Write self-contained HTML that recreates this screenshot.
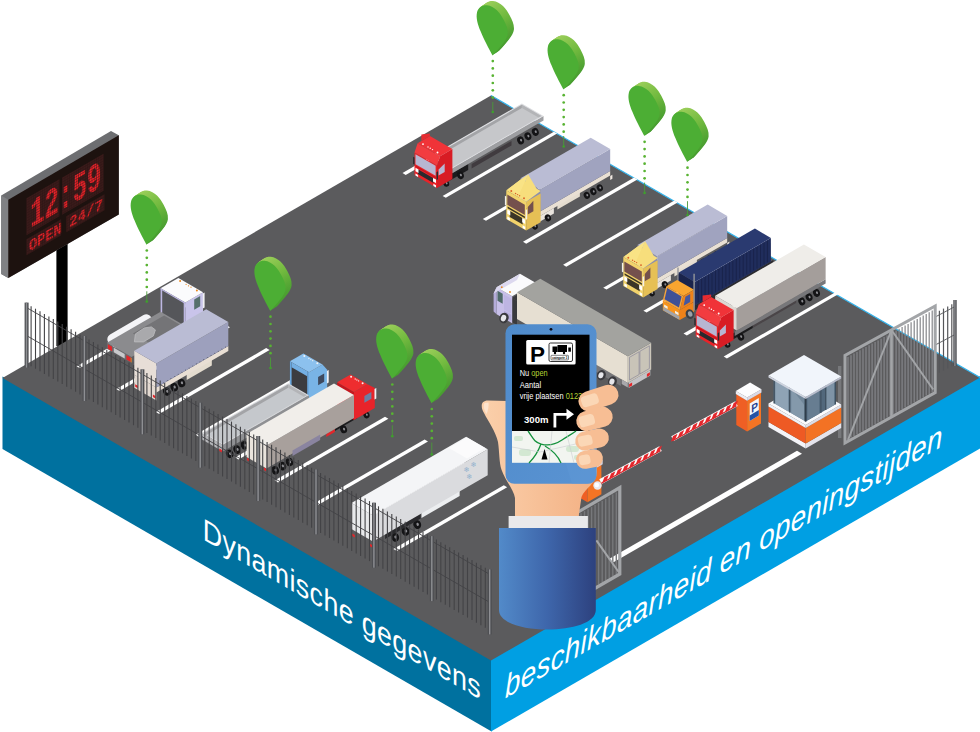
<!DOCTYPE html>
<html lang="nl"><head><meta charset="utf-8"><title>Dynamische gegevens</title><style>html,body{margin:0;padding:0;background:#fff}body{width:980px;height:732px;overflow:hidden}svg{display:block}</style></head><body>
<svg width="980" height="732" viewBox="0 0 980 732">
<defs><linearGradient id="pinEdge" x1="0.2" y1="0" x2="0.8" y2="1"><stop offset="0" stop-color="#9bce5a"/><stop offset="0.45" stop-color="#72ba3f"/><stop offset="1" stop-color="#3a942b"/></linearGradient><linearGradient id="sleeve" x1="0" y1="0" x2="1" y2="0"><stop offset="0" stop-color="#528ac9"/><stop offset="0.5" stop-color="#3e66ab"/><stop offset="1" stop-color="#2d417e"/></linearGradient><linearGradient id="phoneG" x1="0" y1="0" x2="1" y2="1"><stop offset="0" stop-color="#4f8bcb"/><stop offset="1" stop-color="#5a93d2"/></linearGradient><linearGradient id="skin" x1="0" y1="0" x2="1" y2="0"><stop offset="0" stop-color="#fbd0ab"/><stop offset="1" stop-color="#f3b083"/></linearGradient><pattern id="led" width="2.6" height="2.6" patternUnits="userSpaceOnUse"><path d="M0,0 H2.6 M0,0 V2.6" stroke="#2a1313" stroke-width="0.75" fill="none"/></pattern></defs>
<rect width="980" height="732" fill="#fff"/>
<rect x="56.4" y="240" width="11.2" height="106" fill="#000"/>
<polygon points="1.2,195.5 111,131 118.8,135.2 118.8,214.6 8.3,278 1.2,274" fill="#6d6e71"/>
<polygon points="1.2,195.5 8.3,199.8 8.3,278 1.2,274" fill="#808184"/>
<polygon points="8.3,199.8 118.8,135.2 118.8,214.6 8.3,278" fill="#1d120f"/>
<g transform="matrix(0.866 -0.5 0 1 8.3 199.8)">
<rect x="21" y="9" width="38" height="37" fill="#3a1b1a"/>
<rect x="62" y="9" width="48" height="37" fill="#3a1b1a"/>
<rect x="21" y="50" width="40" height="16" fill="#3a1b1a"/>
<rect x="67" y="50" width="44" height="16" fill="#3a1b1a"/>
<text x="25" y="40.5" font-family="'Liberation Mono', monospace" font-weight="bold" font-size="40" textLength="82" lengthAdjust="spacingAndGlyphs" fill="#e8232a">12:59</text>
<text x="23.5" y="63.5" font-family="'Liberation Mono', monospace" font-weight="bold" font-size="16" textLength="38" lengthAdjust="spacingAndGlyphs" fill="#e8232a">OPEN</text>
<text x="70" y="63" font-family="'Liberation Mono', monospace" font-weight="bold" font-size="15" textLength="39" lengthAdjust="spacingAndGlyphs" fill="#e8232a">24/7</text>
<rect x="21" y="9" width="38" height="37" fill="url(#led)"/>
<rect x="62" y="9" width="48" height="37" fill="url(#led)"/>
<rect x="21" y="50" width="40" height="16" fill="url(#led)"/>
<rect x="67" y="50" width="44" height="16" fill="url(#led)"/>
</g>
<polygon points="2.5,376.5 491.6,659 491.6,731.5 2.5,449" fill="#00719f"/>
<polygon points="491,659 980,376 980,448.5 491,731.5" fill="#009fe3"/>
<polygon points="2.5,378 491,95.6 980,377.5 491,660.5" fill="#5b5b5d"/>
<line x1="491" y1="95.6" x2="980" y2="377.5" stroke="#35b4ec" stroke-width="1.2"/>
<polygon points="402.5,173 513.8,108.8 517,110.7 405.7,174.9" fill="#ffffff"/>
<polygon points="442.6,195.9 553.9,131.7 557.1,133.6 445.8,197.8" fill="#ffffff"/>
<polygon points="482.8,218.9 594.1,154.7 597.3,156.6 486,220.8" fill="#ffffff"/>
<polygon points="523,241.8 634.2,177.6 637.4,179.5 526.2,243.8" fill="#ffffff"/>
<polygon points="563.1,264.8 674.4,200.6 677.6,202.5 566.3,266.7" fill="#ffffff"/>
<polygon points="603.2,287.8 714.5,223.5 717.7,225.4 606.5,289.6" fill="#ffffff"/>
<polygon points="643.4,310.7 754.7,246.4 757.9,248.3 646.6,312.6" fill="#ffffff"/>
<polygon points="683.5,333.6 794.8,269.4 798,271.3 686.8,335.5" fill="#ffffff"/>
<polygon points="723.7,356.6 835,292.4 838.2,294.2 726.9,358.5" fill="#ffffff"/>
<polygon points="76.6,366.2 187,302.4 190.4,304.4 80,368.2" fill="#ffffff"/>
<polygon points="116.2,389 226.6,325.2 230,327.2 119.6,391" fill="#ffffff"/>
<polygon points="155.8,411.9 266.2,348.1 269.6,350.1 159.2,413.9" fill="#ffffff"/>
<polygon points="195.4,434.7 305.8,371 309.2,373 198.8,436.7" fill="#ffffff"/>
<polygon points="235,457.6 345.4,393.8 348.8,395.8 238.4,459.6" fill="#ffffff"/>
<polygon points="274.6,480.4 385,416.7 388.4,418.7 278,482.4" fill="#ffffff"/>
<polygon points="314.2,503.2 424.6,439.5 428,441.5 317.6,505.2" fill="#ffffff"/>
<polygon points="353.8,526.1 464.2,462.4 467.6,464.4 357.2,528.1" fill="#ffffff"/>
<polygon points="393.4,549 503.8,485.2 507.2,487.2 396.8,551" fill="#ffffff"/>
<polygon points="608.5,559.3 797,450.8 802,453.8 613.5,562.3" fill="#ffffff"/>
<polygon points="449.1,181 468.2,170 468.2,164 449.1,175" fill="#1c1c1e"/>
<polygon points="471.6,168.5 511.5,145.5 511.5,141 471.6,164" fill="#403b3f"/>
<ellipse cx="460.4" cy="175.2" rx="3.4" ry="4" fill="#141416" transform="rotate(-20 460.4 175.2)"/>
<ellipse cx="460.9" cy="175.2" rx="1" ry="1.4" fill="#8d8d92" transform="rotate(-20 460.4 175.2)"/>
<ellipse cx="520.6" cy="140.4" rx="3.4" ry="4" fill="#141416" transform="rotate(-20 520.6 140.4)"/>
<ellipse cx="521.1" cy="140.4" rx="1" ry="1.4" fill="#8d8d92" transform="rotate(-20 520.6 140.4)"/>
<ellipse cx="527.9" cy="136.2" rx="3.4" ry="4" fill="#141416" transform="rotate(-20 527.9 136.2)"/>
<ellipse cx="528.4" cy="136.2" rx="1" ry="1.4" fill="#8d8d92" transform="rotate(-20 527.9 136.2)"/>
<ellipse cx="535.3" cy="131.9" rx="3.4" ry="4" fill="#141416" transform="rotate(-20 535.3 131.9)"/>
<ellipse cx="535.8" cy="131.9" rx="1" ry="1.4" fill="#8d8d92" transform="rotate(-20 535.3 131.9)"/>
<polygon points="452.2,173.2 543.5,120.5 543.5,116 452.2,168.8" fill="#9d9ea1"/>
<polygon points="452.2,168.8 430.5,156.2 521.9,103.5 543.5,116" fill="#dcdde0"/>
<polygon points="452.2,167.4 432.8,156.2 521.9,104.8 541.3,116" fill="#c6c7ca"/>
<polygon points="432.8,156.2 521.9,104.8 521.9,108 432.8,159.4" fill="#a3a4a7"/>
<polygon points="541.3,116 521.9,104.8 521.9,108 538.5,117.6" fill="#b3b4b7"/>
<ellipse cx="446.2" cy="183.4" rx="2.9" ry="3.4" fill="#141416" transform="rotate(-20 446.2 183.4)"/>
<ellipse cx="446.7" cy="183.4" rx="0.9" ry="1.2" fill="#8d8d92" transform="rotate(-20 446.2 183.4)"/>
<polygon points="437,188 414.5,175 414.5,152.6 437,165.6" fill="#ea2228"/>
<polygon points="437,188 452.4,179.1 452.4,149.1 440.1,156.2 437,165.6" fill="#d81c24"/>
<polygon points="437,165.6 414.5,152.6 417.6,143.2 440.1,156.2" fill="#f23c40"/>
<polygon points="440.1,156.2 417.6,143.2 429.9,136.1 452.4,149.1" fill="#f03338"/>
<polygon points="421.4,141 429.9,136.1 429.9,133.6 421.4,134.5" fill="#e62b30"/>
<circle cx="437.5" cy="152.5" r="0.95" fill="#fff"/>
<circle cx="432.5" cy="149.6" r="0.7" fill="#fff"/>
<circle cx="430.2" cy="148.3" r="0.7" fill="#fff"/>
<circle cx="428" cy="147" r="0.7" fill="#fff"/>
<circle cx="423" cy="144.1" r="0.95" fill="#fff"/>
<polygon points="435.6,175.8 415.5,164.2 415.5,154.2 435.6,165.8" fill="#b7b6d2"/>
<polygon points="433.5,183.1 417.9,174.1 417.9,169.2 433.5,178.2" fill="#2a2a2e"/>
<polygon points="435.7,178.5 415.8,167 415.8,165.6 435.7,177.1" fill="#c8161e"/>
<polygon points="436,183.1 433,181.4 433,177.9 436,179.6" fill="#fff"/>
<polygon points="418.5,173 415.5,171.3 415.5,167.8 418.5,169.5" fill="#fff"/>
<polygon points="436,187.4 433.4,185.9 433.4,183.8 436,185.3" fill="#fff"/>
<polygon points="418.1,177.1 415.5,175.6 415.5,173.5 418.1,175" fill="#fff"/>
<polygon points="438.6,175.4 444.7,171.9 444.7,163.6 438.6,169.6" fill="#b7b6d2"/>
<polygon points="436.5,180.1 438,179.2 438,171.3 436.5,172.2" fill="#2a2a2e"/>
<polygon points="414.5,164.8 413.1,164 413.1,156.7 414.5,157.5" fill="#2a2a2e"/>
<polygon points="537.5,223.1 553.9,213.6 553.9,208.1 537.5,217.6" fill="#e9e4de"/>
<ellipse cx="547.9" cy="217.8" rx="3.1" ry="3.6" fill="#141416" transform="rotate(-20 547.9 217.8)"/>
<ellipse cx="548.4" cy="217.8" rx="0.9" ry="1.2" fill="#8d8d92" transform="rotate(-20 547.9 217.8)"/>
<ellipse cx="586.8" cy="195.3" rx="3.1" ry="3.6" fill="#141416" transform="rotate(-20 586.8 195.3)"/>
<ellipse cx="587.3" cy="195.3" rx="0.9" ry="1.2" fill="#8d8d92" transform="rotate(-20 586.8 195.3)"/>
<ellipse cx="593.3" cy="191.5" rx="3.1" ry="3.6" fill="#141416" transform="rotate(-20 593.3 191.5)"/>
<ellipse cx="593.8" cy="191.5" rx="0.9" ry="1.2" fill="#8d8d92" transform="rotate(-20 593.3 191.5)"/>
<ellipse cx="599.8" cy="187.8" rx="3.1" ry="3.6" fill="#141416" transform="rotate(-20 599.8 187.8)"/>
<ellipse cx="600.3" cy="187.8" rx="0.9" ry="1.2" fill="#8d8d92" transform="rotate(-20 599.8 187.8)"/>
<polygon points="557.4,209.6 579.9,196.6 579.9,191.1 557.4,204.1" fill="#e4dccf"/>
<polygon points="540.1,216.1 610.2,175.6 610.2,171.1 540.1,211.6" fill="#e9e0d4"/>
<polygon points="540.1,216.1 520.6,204.8 520.6,200.3 540.1,211.6" fill="#d6cdc2"/>
<polygon points="540.1,211.6 520.6,200.3 520.6,178.3 540.1,189.6" fill="#8d90ad"/>
<polygon points="540.1,211.6 610.2,171.1 610.2,149.1 540.1,189.6" fill="#a0a3bf"/>
<polygon points="540.1,189.6 520.6,178.3 590.7,137.8 610.2,149.1" fill="#babcd4"/>
<polygon points="610.2,180.1 612.4,178.8 612.4,174.8 610.2,176.1" fill="#f0e8e0"/>
<ellipse cx="534.8" cy="226.3" rx="2.9" ry="3.4" fill="#141416" transform="rotate(-20 534.8 226.3)"/>
<ellipse cx="535.3" cy="226.3" rx="0.9" ry="1.2" fill="#8d8d92" transform="rotate(-20 534.8 226.3)"/>
<polygon points="526.2,230.6 506.3,219.1 506.3,190.3 526.2,201.8" fill="#f2d36b"/>
<polygon points="526.2,230.6 540.6,222.3 540.6,193.5 526.2,201.8 526.2,201.8" fill="#e6c055"/>
<polygon points="526.2,201.8 506.3,190.3 520.7,179.6 540.6,191.1" fill="#f7de7c"/>
<polygon points="519,195.3 528.2,174.4 520.7,179.6 508,189.3" fill="#f9e385"/>
<polygon points="519,195.3 528.2,174.4 536.6,188.8" fill="#f7de7c"/>
<circle cx="524" cy="198.3" r="0.95" fill="#d9622b"/>
<circle cx="519.6" cy="195.8" r="0.7" fill="#d9622b"/>
<circle cx="517.6" cy="194.6" r="0.7" fill="#d9622b"/>
<circle cx="515.6" cy="193.5" r="0.7" fill="#d9622b"/>
<circle cx="511.3" cy="191" r="0.95" fill="#d9622b"/>
<polygon points="524.8,214.9 507.3,204.8 507.3,194.6 524.8,204.7" fill="#74504d"/>
<polygon points="522.7,224.4 509.7,216.9 509.7,210.8 522.7,218.3" fill="#3b3526"/>
<polygon points="524.9,218.3 507.6,208.3 507.6,206.4 524.9,216.4" fill="#3b3526"/>
<polygon points="525.2,224 522.2,222.3 522.2,218 525.2,219.7" fill="#fff"/>
<polygon points="510.3,215.4 507.3,213.7 507.3,209.4 510.3,211.1" fill="#fff"/>
<polygon points="525.2,229.5 522.6,228 522.6,225.3 525.2,226.8" fill="#fff"/>
<polygon points="509.9,220.7 507.3,219.2 507.3,216.5 509.9,218" fill="#fff"/>
<polygon points="527.8,214.5 533.4,211.2 533.4,200.7 527.8,207.1" fill="#74504d"/>
<polygon points="525.7,220 527.2,219.1 527.2,209.2 525.7,210.1" fill="#f4f0ea"/>
<polygon points="506.3,205.7 504.9,204.9 504.9,195.7 506.3,196.5" fill="#f4f0ea"/>
<polygon points="654.5,289.9 670.9,280.4 670.9,274.9 654.5,284.4" fill="#e9e4de"/>
<ellipse cx="664.9" cy="284.6" rx="3.1" ry="3.6" fill="#141416" transform="rotate(-20 664.9 284.6)"/>
<ellipse cx="665.4" cy="284.6" rx="0.9" ry="1.2" fill="#8d8d92" transform="rotate(-20 664.9 284.6)"/>
<ellipse cx="703.8" cy="262.1" rx="3.1" ry="3.6" fill="#141416" transform="rotate(-20 703.8 262.1)"/>
<ellipse cx="704.3" cy="262.1" rx="0.9" ry="1.2" fill="#8d8d92" transform="rotate(-20 703.8 262.1)"/>
<ellipse cx="710.3" cy="258.3" rx="3.1" ry="3.6" fill="#141416" transform="rotate(-20 710.3 258.3)"/>
<ellipse cx="710.8" cy="258.3" rx="0.9" ry="1.2" fill="#8d8d92" transform="rotate(-20 710.3 258.3)"/>
<ellipse cx="716.8" cy="254.6" rx="3.1" ry="3.6" fill="#141416" transform="rotate(-20 716.8 254.6)"/>
<ellipse cx="717.3" cy="254.6" rx="0.9" ry="1.2" fill="#8d8d92" transform="rotate(-20 716.8 254.6)"/>
<polygon points="674.4,276.4 696.9,263.4 696.9,257.9 674.4,270.9" fill="#e4dccf"/>
<polygon points="657.1,282.9 727.2,242.4 727.2,237.9 657.1,278.4" fill="#e9e0d4"/>
<polygon points="657.1,282.9 637.6,271.6 637.6,267.1 657.1,278.4" fill="#d6cdc2"/>
<polygon points="657.1,278.4 637.6,267.1 637.6,245.1 657.1,256.4" fill="#8d90ad"/>
<polygon points="657.1,278.4 727.2,237.9 727.2,215.9 657.1,256.4" fill="#a0a3bf"/>
<polygon points="657.1,256.4 637.6,245.1 707.7,204.6 727.2,215.9" fill="#babcd4"/>
<polygon points="727.2,246.9 729.4,245.6 729.4,241.6 727.2,242.9" fill="#f0e8e0"/>
<ellipse cx="651.8" cy="293.1" rx="2.9" ry="3.4" fill="#141416" transform="rotate(-20 651.8 293.1)"/>
<ellipse cx="652.3" cy="293.1" rx="0.9" ry="1.2" fill="#8d8d92" transform="rotate(-20 651.8 293.1)"/>
<polygon points="643.2,297.4 623.3,285.9 623.3,257.1 643.2,268.6" fill="#f2d36b"/>
<polygon points="643.2,297.4 657.6,289.1 657.6,260.3 643.2,268.6 643.2,268.6" fill="#e6c055"/>
<polygon points="643.2,268.6 623.3,257.1 637.7,246.4 657.6,257.9" fill="#f7de7c"/>
<polygon points="636,262.1 645.2,241.2 637.7,246.4 625,256.1" fill="#f9e385"/>
<polygon points="636,262.1 645.2,241.2 653.6,255.6" fill="#f7de7c"/>
<circle cx="641" cy="265.1" r="0.95" fill="#d9622b"/>
<circle cx="636.6" cy="262.6" r="0.7" fill="#d9622b"/>
<circle cx="634.6" cy="261.4" r="0.7" fill="#d9622b"/>
<circle cx="632.6" cy="260.3" r="0.7" fill="#d9622b"/>
<circle cx="628.3" cy="257.8" r="0.95" fill="#d9622b"/>
<polygon points="641.8,281.7 624.3,271.6 624.3,261.4 641.8,271.5" fill="#74504d"/>
<polygon points="639.7,291.2 626.7,283.7 626.7,277.6 639.7,285.1" fill="#3b3526"/>
<polygon points="641.9,285.1 624.6,275.1 624.6,273.2 641.9,283.2" fill="#3b3526"/>
<polygon points="642.2,290.8 639.2,289.1 639.2,284.8 642.2,286.5" fill="#fff"/>
<polygon points="627.3,282.2 624.3,280.5 624.3,276.2 627.3,277.9" fill="#fff"/>
<polygon points="642.2,296.3 639.6,294.8 639.6,292.1 642.2,293.6" fill="#fff"/>
<polygon points="626.9,287.5 624.3,286 624.3,283.3 626.9,284.8" fill="#fff"/>
<polygon points="644.8,281.3 650.4,278 650.4,267.5 644.8,273.9" fill="#74504d"/>
<polygon points="642.7,286.8 644.2,285.9 644.2,276 642.7,276.9" fill="#f4f0ea"/>
<polygon points="623.3,272.5 621.9,271.7 621.9,262.5 623.3,263.3" fill="#f4f0ea"/>
<ellipse cx="759.5" cy="274.3" rx="3.2" ry="3.8" fill="#141416" transform="rotate(-20 759.5 274.3)"/>
<ellipse cx="760" cy="274.3" rx="1" ry="1.3" fill="#8d8d92" transform="rotate(-20 759.5 274.3)"/>
<ellipse cx="766" cy="270.6" rx="3.2" ry="3.8" fill="#141416" transform="rotate(-20 766 270.6)"/>
<ellipse cx="766.5" cy="270.6" rx="1" ry="1.3" fill="#8d8d92" transform="rotate(-20 766 270.6)"/>
<polygon points="690.2,313 773.3,265 773.3,260 690.2,308" fill="#2b2b30"/>
<line x1="678" y1="282.4" x2="678" y2="267.4" stroke="#8e9096" stroke-width="1.3"/>
<polygon points="694.7,305.4 678.7,296.1 678.7,272.6 694.7,281.9" fill="#1a244c"/>
<polygon points="694.7,305.4 770.9,261.4 770.9,237.9 694.7,281.9" fill="#202d5c"/>
<polygon points="694.7,281.9 678.7,272.6 754.9,228.6 770.9,237.9" fill="#2a3a70"/>
<line x1="698.2" y1="302.4" x2="698.2" y2="280.9" stroke="#182148" stroke-width="0.8"/>
<line x1="701.6" y1="300.4" x2="701.6" y2="278.9" stroke="#182148" stroke-width="0.8"/>
<line x1="705.1" y1="298.4" x2="705.1" y2="276.9" stroke="#182148" stroke-width="0.8"/>
<line x1="708.6" y1="296.4" x2="708.6" y2="274.9" stroke="#182148" stroke-width="0.8"/>
<line x1="712" y1="294.4" x2="712" y2="272.9" stroke="#182148" stroke-width="0.8"/>
<line x1="715.5" y1="292.4" x2="715.5" y2="270.9" stroke="#182148" stroke-width="0.8"/>
<line x1="718.9" y1="290.4" x2="718.9" y2="268.9" stroke="#182148" stroke-width="0.8"/>
<line x1="722.4" y1="288.4" x2="722.4" y2="266.9" stroke="#182148" stroke-width="0.8"/>
<line x1="725.9" y1="286.4" x2="725.9" y2="264.9" stroke="#182148" stroke-width="0.8"/>
<line x1="729.3" y1="284.4" x2="729.3" y2="262.9" stroke="#182148" stroke-width="0.8"/>
<line x1="732.8" y1="282.4" x2="732.8" y2="260.9" stroke="#182148" stroke-width="0.8"/>
<line x1="736.3" y1="280.4" x2="736.3" y2="258.9" stroke="#182148" stroke-width="0.8"/>
<line x1="739.7" y1="278.4" x2="739.7" y2="256.9" stroke="#182148" stroke-width="0.8"/>
<line x1="743.2" y1="276.4" x2="743.2" y2="254.9" stroke="#182148" stroke-width="0.8"/>
<line x1="746.7" y1="274.4" x2="746.7" y2="252.9" stroke="#182148" stroke-width="0.8"/>
<line x1="750.1" y1="272.4" x2="750.1" y2="250.9" stroke="#182148" stroke-width="0.8"/>
<line x1="753.6" y1="270.4" x2="753.6" y2="248.9" stroke="#182148" stroke-width="0.8"/>
<line x1="757" y1="268.4" x2="757" y2="246.9" stroke="#182148" stroke-width="0.8"/>
<line x1="760.5" y1="266.4" x2="760.5" y2="244.9" stroke="#182148" stroke-width="0.8"/>
<line x1="764" y1="264.4" x2="764" y2="242.9" stroke="#182148" stroke-width="0.8"/>
<line x1="767.4" y1="262.4" x2="767.4" y2="240.9" stroke="#182148" stroke-width="0.8"/>
<polygon points="679.8,320 662.8,310.2 662.8,300.2 679.8,310" fill="#f7941e"/>
<polygon points="679.8,320 694.1,311.8 694.1,301.8 679.8,310" fill="#ee8219"/>
<ellipse cx="689.8" cy="314.1" rx="4.1" ry="4.9" fill="#3b3f46" transform="rotate(-20 689.8 314.1)"/>
<ellipse cx="690.2" cy="314.1" rx="2.2" ry="2.8" fill="#9aa0a8" transform="rotate(-20 689.8 314.1)"/>
<polygon points="679.8,310 662.8,300.2 666.3,286.2 683.3,296" fill="#f4a43c"/>
<polygon points="678.9,307.5 664.6,299.2 667.2,288.1 681.6,296.4" fill="#3f5196"/>
<polygon points="679.8,310 683.3,296 694.1,289.8 694.1,301.8" fill="#ee8219"/>
<polygon points="683.7,305.8 685.4,296.8 690.2,294 690.2,302" fill="#4558a0"/>
<polygon points="683.3,296 666.3,286.2 677.1,279.9 694.1,289.8" fill="#f9a52f"/>
<polygon points="679.4,319.8 663.3,310.4 663.3,306.9 679.4,316.2" fill="#9fa3aa"/>
<polygon points="678.5,315.2 675,313.2 675,310.8 678.5,312.8" fill="#f3efe6"/>
<polygon points="667.6,308.9 664.1,306.9 664.1,304.4 667.6,306.4" fill="#f3efe6"/>
<line x1="694.1" y1="310.8" x2="694.1" y2="273.8" stroke="#8e9096" stroke-width="1.5"/>
<polygon points="730.3,341 752.8,328 752.8,322 730.3,335" fill="#1c1c1e"/>
<ellipse cx="740.7" cy="336.7" rx="3.4" ry="4" fill="#141416" transform="rotate(-20 740.7 336.7)"/>
<ellipse cx="741.2" cy="336.7" rx="1" ry="1.4" fill="#8d8d92" transform="rotate(-20 740.7 336.7)"/>
<ellipse cx="801.8" cy="301.4" rx="3.4" ry="4" fill="#141416" transform="rotate(-20 801.8 301.4)"/>
<ellipse cx="802.3" cy="301.4" rx="1" ry="1.4" fill="#8d8d92" transform="rotate(-20 801.8 301.4)"/>
<ellipse cx="809.1" cy="297.2" rx="3.4" ry="4" fill="#141416" transform="rotate(-20 809.1 297.2)"/>
<ellipse cx="809.6" cy="297.2" rx="1" ry="1.4" fill="#8d8d92" transform="rotate(-20 809.1 297.2)"/>
<ellipse cx="816.5" cy="292.9" rx="3.4" ry="4" fill="#141416" transform="rotate(-20 816.5 292.9)"/>
<ellipse cx="817" cy="292.9" rx="1" ry="1.4" fill="#8d8d92" transform="rotate(-20 816.5 292.9)"/>
<polygon points="752.8,328 796.1,303 796.1,297.5 752.8,322.5" fill="#4a4548"/>
<polygon points="734.7,336 825.6,283.5 825.6,279.3 734.7,331.8" fill="#77777a"/>
<polygon points="736.8,330.6 715.2,318.1 715.2,295.8 736.8,308.2" fill="#dcd8d3"/>
<polygon points="736.8,330.6 825.6,279.3 825.6,257 736.8,308.2" fill="#a49e9b"/>
<polygon points="736.8,308.2 715.2,295.8 803.9,244.5 825.6,257" fill="#efede9"/>
<ellipse cx="727.4" cy="344.4" rx="2.9" ry="3.4" fill="#141416" transform="rotate(-20 727.4 344.4)"/>
<ellipse cx="727.9" cy="344.4" rx="0.9" ry="1.2" fill="#8d8d92" transform="rotate(-20 727.4 344.4)"/>
<polygon points="718.2,349 695.7,336 695.7,313.6 718.2,326.6" fill="#ea2228"/>
<polygon points="718.2,349 733.6,340.1 733.6,310.1 721.3,317.2 718.2,326.6" fill="#d81c24"/>
<polygon points="718.2,326.6 695.7,313.6 698.8,304.2 721.3,317.2" fill="#f23c40"/>
<polygon points="721.3,317.2 698.8,304.2 711.1,297.1 733.6,310.1" fill="#f03338"/>
<polygon points="702.6,302 711.1,297.1 711.1,294.6 702.6,295.5" fill="#e62b30"/>
<circle cx="718.7" cy="313.5" r="0.95" fill="#fff"/>
<circle cx="713.7" cy="310.6" r="0.7" fill="#fff"/>
<circle cx="711.4" cy="309.3" r="0.7" fill="#fff"/>
<circle cx="709.2" cy="308" r="0.7" fill="#fff"/>
<circle cx="704.2" cy="305.1" r="0.95" fill="#fff"/>
<polygon points="716.8,336.8 696.7,325.2 696.7,315.2 716.8,326.8" fill="#b7b6d2"/>
<polygon points="714.7,344.1 699.1,335.1 699.1,330.2 714.7,339.2" fill="#2a2a2e"/>
<polygon points="716.9,339.5 697,328 697,326.6 716.9,338.1" fill="#c8161e"/>
<polygon points="717.2,344.1 714.2,342.4 714.2,338.9 717.2,340.6" fill="#fff"/>
<polygon points="699.7,334 696.7,332.3 696.7,328.8 699.7,330.5" fill="#fff"/>
<polygon points="717.2,348.4 714.6,346.9 714.6,344.8 717.2,346.3" fill="#fff"/>
<polygon points="699.3,338.1 696.7,336.6 696.7,334.5 699.3,336" fill="#fff"/>
<polygon points="719.8,336.4 725.9,332.9 725.9,324.6 719.8,330.6" fill="#b7b6d2"/>
<polygon points="717.7,341.1 719.2,340.2 719.2,332.3 717.7,333.2" fill="#2a2a2e"/>
<polygon points="695.7,325.8 694.3,325 694.3,317.7 695.7,318.5" fill="#2a2a2e"/>
<polygon points="517,325 511.8,322 511.8,298 517,301" fill="#3a3a3d"/>
<polygon points="517,301 511.8,298 535.1,284.5 540.3,287.5" fill="#3a3a3d"/>
<polygon points="512.2,323.2 496.6,314.2 496.6,287.2 512.2,296.2" fill="#c7bfe8"/>
<polygon points="496.6,287.2 493.6,293.5 493.6,311.5 496.6,314.2" fill="#b4acd9"/>
<polygon points="512.2,296.2 496.6,287.2 520,273.8 535.6,282.8" fill="#fafafc"/>
<polygon points="496.6,287.2 493.6,293.5 517,280 520,273.8" fill="#dcd8ef"/>
<polygon points="502.7,303.8 497.5,300.8 497.5,290.8 502.7,293.8" fill="#4f6a68"/>
<polygon points="511.3,313.8 504,309.5 504,294.5 511.3,298.8" fill="#bdb5e2"/>
<polygon points="511.3,320.8 504,316.5 504,310.5 511.3,314.8" fill="#b3abd8"/>
<circle cx="510" cy="292" r="0.9" fill="#e8861e"/>
<circle cx="501.8" cy="287.2" r="0.9" fill="#e8861e"/>
<ellipse cx="504" cy="318" rx="4.6" ry="5.3" fill="#3a3a3e" transform="rotate(20 504 318)"/>
<ellipse cx="503.6" cy="318.3" rx="2.6" ry="3.3" fill="#e6e6ea" transform="rotate(20 504 318)"/>
<polygon points="620.9,386 591.4,369 591.4,362 620.9,379" fill="#77777a"/>
<ellipse cx="612.4" cy="381.4" rx="4.4" ry="5.1" fill="#3a3a3e" transform="rotate(20 612.4 381.4)"/>
<ellipse cx="612" cy="381.7" rx="2.5" ry="3.1" fill="#e6e6ea" transform="rotate(20 612.4 381.4)"/>
<ellipse cx="601.4" cy="375.1" rx="4.4" ry="5.1" fill="#3a3a3e" transform="rotate(20 601.4 375.1)"/>
<ellipse cx="601" cy="375.4" rx="2.5" ry="3.1" fill="#e6e6ea" transform="rotate(20 601.4 375.1)"/>
<polygon points="627.8,383 517,319 517,292.3 627.8,356.3" fill="#e6dfd2"/>
<polygon points="627.8,383 651.2,369.5 651.2,342.8 627.8,356.3" fill="#cbc6ba"/>
<polygon points="627.8,356.3 517,292.3 540.3,278.8 651.2,342.8" fill="#a3a39f"/>
<polygon points="629.5,380 639.1,374.5 639.1,351.8 629.5,357.3" fill="#c9c4b8" stroke="#8d8a9a" stroke-width="0.7"/>
<polygon points="639.9,374 649.4,368.5 649.4,345.8 639.9,351.3" fill="#c9c4b8" stroke="#8d8a9a" stroke-width="0.7"/>
<polygon points="628.7,388 650.3,375.5 650.3,370 628.7,382.5" fill="#c3c3c6"/>
<polygon points="629.1,387.2 632.1,385.5 632.1,382.5 629.1,384.2" fill="#e3262a"/>
<polygon points="646.9,377 649.9,375.2 649.9,372.2 646.9,374" fill="#e3262a"/>
<polygon points="627.8,387.5 621.7,384 621.7,379.5 627.8,383" fill="#a9a9ac"/>
<line x1="939.4" y1="372.8" x2="939.4" y2="310.8" stroke="#555659" stroke-width="1.2"/>
<line x1="943.5" y1="370.6" x2="943.5" y2="308.6" stroke="#555659" stroke-width="1.2"/>
<line x1="947.7" y1="368.4" x2="947.7" y2="306.4" stroke="#555659" stroke-width="1.2"/>
<line x1="951.8" y1="366.2" x2="951.8" y2="304.2" stroke="#555659" stroke-width="1.2"/>
<line x1="935.2" y1="317" x2="956" y2="306" stroke="#555659" stroke-width="0.9"/>
<line x1="935.2" y1="345" x2="956" y2="334" stroke="#555659" stroke-width="0.9"/>
<rect x="953.3" y="300" width="3.4" height="66" fill="#4e4f53"/>
<rect x="954.3" y="300" width="1.2" height="66" fill="#8e8f93"/>
<line x1="848" y1="439.3" x2="848" y2="356.9" stroke="#85868a" stroke-width="1.2"/>
<line x1="851" y1="437.6" x2="851" y2="355.2" stroke="#85868a" stroke-width="1.2"/>
<line x1="854" y1="435.9" x2="854" y2="353.6" stroke="#85868a" stroke-width="1.2"/>
<line x1="857" y1="434.3" x2="857" y2="351.9" stroke="#85868a" stroke-width="1.2"/>
<line x1="860" y1="432.6" x2="860" y2="350.2" stroke="#85868a" stroke-width="1.2"/>
<line x1="863" y1="430.9" x2="863" y2="348.6" stroke="#85868a" stroke-width="1.2"/>
<line x1="866" y1="429.2" x2="866" y2="346.9" stroke="#85868a" stroke-width="1.2"/>
<line x1="869.1" y1="427.5" x2="869.1" y2="345.3" stroke="#85868a" stroke-width="1.2"/>
<line x1="872.1" y1="425.9" x2="872.1" y2="343.6" stroke="#85868a" stroke-width="1.2"/>
<line x1="875.1" y1="424.2" x2="875.1" y2="342" stroke="#85868a" stroke-width="1.2"/>
<line x1="878.1" y1="422.5" x2="878.1" y2="340.4" stroke="#85868a" stroke-width="1.2"/>
<line x1="881.1" y1="420.8" x2="881.1" y2="338.7" stroke="#85868a" stroke-width="1.2"/>
<line x1="884.1" y1="419.1" x2="884.1" y2="337.1" stroke="#85868a" stroke-width="1.2"/>
<line x1="887.1" y1="417.4" x2="887.1" y2="335.4" stroke="#85868a" stroke-width="1.2"/>
<line x1="890.1" y1="415.8" x2="890.1" y2="333.8" stroke="#85868a" stroke-width="1.2"/>
<line x1="893.1" y1="414.1" x2="893.1" y2="332.1" stroke="#85868a" stroke-width="1.2"/>
<line x1="896.1" y1="412.4" x2="896.1" y2="330.4" stroke="#85868a" stroke-width="1.2"/>
<line x1="899.1" y1="410.7" x2="899.1" y2="328.8" stroke="#85868a" stroke-width="1.2"/>
<line x1="902.1" y1="409" x2="902.1" y2="327.1" stroke="#85868a" stroke-width="1.2"/>
<line x1="905.1" y1="407.3" x2="905.1" y2="325.5" stroke="#85868a" stroke-width="1.2"/>
<line x1="908.1" y1="405.6" x2="908.1" y2="323.9" stroke="#85868a" stroke-width="1.2"/>
<line x1="911.1" y1="404" x2="911.1" y2="322.2" stroke="#85868a" stroke-width="1.2"/>
<line x1="914.2" y1="402.3" x2="914.2" y2="320.6" stroke="#85868a" stroke-width="1.2"/>
<line x1="917.2" y1="400.6" x2="917.2" y2="318.9" stroke="#85868a" stroke-width="1.2"/>
<line x1="920.2" y1="398.9" x2="920.2" y2="317.2" stroke="#85868a" stroke-width="1.2"/>
<line x1="923.2" y1="397.2" x2="923.2" y2="315.6" stroke="#85868a" stroke-width="1.2"/>
<line x1="926.2" y1="395.6" x2="926.2" y2="313.9" stroke="#85868a" stroke-width="1.2"/>
<line x1="929.2" y1="393.9" x2="929.2" y2="312.3" stroke="#85868a" stroke-width="1.2"/>
<line x1="932.2" y1="392.2" x2="932.2" y2="310.6" stroke="#85868a" stroke-width="1.2"/>
<line x1="891.5" y1="330" x2="848" y2="440" stroke="#a3a5a8" stroke-width="2"/>
<line x1="891.5" y1="330" x2="933.2" y2="389.5" stroke="#a3a5a8" stroke-width="2"/>
<polygon points="845,443 845,355.5 935.2,306 935.2,392.5" fill="none" stroke="#a3a5a8" stroke-width="3"/>
<line x1="891.5" y1="330" x2="891.5" y2="417" stroke="#a3a5a8" stroke-width="2.6"/>
<rect x="838" y="366" width="3.4" height="72" fill="#77787b"/>
<polygon points="805.7,448.6 768.5,427.1 768.5,422.1 805.7,443.6" fill="#f4f4f8"/>
<polygon points="805.7,448.6 841.2,428.1 841.2,423.1 805.7,443.6" fill="#e4e4ec"/>
<polygon points="805.7,443.6 768.5,422.1 768.5,406.6 805.7,428.1" fill="#ee5a24"/>
<polygon points="805.7,443.6 841.2,423.1 841.2,407.6 805.7,428.1" fill="#f37224"/>
<polygon points="805.7,428.1 768.5,406.6 768.5,403.6 805.7,425.1" fill="#f1f1f6"/>
<polygon points="805.7,428.1 841.2,407.6 841.2,404.6 805.7,425.1" fill="#dedee8"/>
<polygon points="805.7,425.1 768.5,403.6 804,383.1 841.2,404.6" fill="#fbfbfd"/>
<polygon points="805.7,421.6 773.7,403.1 773.7,377.6 805.7,396.1" fill="#71879a"/>
<polygon points="805.7,421.6 836,404.1 836,378.6 805.7,396.1" fill="#52687c"/>
<polygon points="804,420.6 791.3,413.3 791.3,388.3 804,404.6" fill="#8499ab"/>
<polygon points="788.1,411.4 775.4,404.1 775.4,379.1 788.1,386.4" fill="#8fa3b5"/>
<polygon points="807.4,420.6 819.3,413.7 819.3,388.7 807.4,395.6" fill="#677d91"/>
<polygon points="826.3,409.7 834.3,405.1 834.3,380.1 826.3,384.7" fill="#7e93a6"/>
<line x1="805.2" y1="421.3" x2="805.2" y2="395.8" stroke="#3f4f5e" stroke-width="1.3"/>
<line x1="789.7" y1="412.4" x2="789.7" y2="386.9" stroke="#3f4f5e" stroke-width="1.3"/>
<line x1="774.2" y1="403.4" x2="774.2" y2="377.9" stroke="#3f4f5e" stroke-width="1.3"/>
<line x1="820.9" y1="412.9" x2="820.9" y2="387.4" stroke="#3f4f5e" stroke-width="1.1"/>
<line x1="825.7" y1="410.1" x2="825.7" y2="384.6" stroke="#3f4f5e" stroke-width="1.1"/>
<line x1="835.5" y1="404.4" x2="835.5" y2="378.9" stroke="#3f4f5e" stroke-width="1.1"/>
<line x1="805.7" y1="421.6" x2="805.7" y2="396.1" stroke="#2f3d4a" stroke-width="1.6"/>
<polygon points="805.7,399.1 768.5,377.6 768.5,375.6 805.7,397.1" fill="#cfd3de"/>
<polygon points="805.7,399.1 841.2,378.6 841.2,376.6 805.7,397.1" fill="#b9bdcc"/>
<polygon points="805.7,397.1 768.5,375.6 804,355.1 841.2,376.6" fill="#f1f5fb"/>
<polygon points="747.1,431.4 736.3,425.1 736.3,394.1 747.1,400.4" fill="#ef5f24"/>
<polygon points="747.1,431.4 761,423.4 761,392.4 747.1,400.4" fill="#f37424"/>
<polygon points="747.1,400.7 735.8,394.1 735.8,390.9 747.1,397.5" fill="#ececf2"/>
<polygon points="747.1,400.7 761.5,392.4 761.5,389.2 747.1,397.5" fill="#dadae6"/>
<polygon points="747.1,397.5 735.8,390.9 750.1,382.6 761.5,389.2" fill="#fdfdfe"/>
<polygon points="749.7,420.9 758.8,415.6 758.8,398.1 749.7,403.4" fill="#f4f6fb"/>
<polygon points="749.7,420.9 758.8,415.6 758.8,410.1 749.7,415.4" fill="#2452a6"/>
<g transform="matrix(0.866 -0.5 0 1 751.3 413.2)"><text x="0" y="0" font-family="'Liberation Sans', sans-serif" font-weight="bold" font-size="11.5" fill="#1f3f8f">P</text></g>
<line x1="736.5" y1="403.6" x2="672.5" y2="438.6" stroke="#fdfdfd" stroke-width="5.2"/>
<line x1="736.5" y1="405.8" x2="672.5" y2="440.8" stroke="#d3262b" stroke-width="1.3"/>
<polygon points="738.1,400.5 733.7,402.9 731.5,408.5 735.9,406.1" fill="#e5262b"/>
<polygon points="731.4,404.2 727,406.6 724.8,412.2 729.2,409.8" fill="#e5262b"/>
<polygon points="724.6,407.9 720.3,410.3 718.1,415.9 722.4,413.5" fill="#e5262b"/>
<polygon points="717.9,411.6 713.5,414 711.3,419.6 715.7,417.2" fill="#e5262b"/>
<polygon points="711.2,415.3 706.8,417.7 704.6,423.3 709,420.9" fill="#e5262b"/>
<polygon points="704.4,418.9 700,421.3 697.8,426.9 702.2,424.5" fill="#e5262b"/>
<polygon points="697.7,422.6 693.3,425 691.1,430.6 695.5,428.2" fill="#e5262b"/>
<polygon points="690.9,426.3 686.6,428.7 684.4,434.3 688.7,431.9" fill="#e5262b"/>
<polygon points="684.2,430 679.8,432.4 677.6,438 682,435.6" fill="#e5262b"/>
<polygon points="677.5,433.7 673.1,436.1 670.9,441.7 675.3,439.3" fill="#e5262b"/>
<polygon points="587.5,502.3 576.7,496.1 576.7,466.1 587.5,472.3" fill="#ef5f24"/>
<polygon points="587.5,502.3 601.4,494.3 601.4,464.3 587.5,472.3" fill="#f37424"/>
<polygon points="587.5,473.1 575.4,466.1 575.4,462.1 587.5,469.1" fill="#e7e7ee"/>
<polygon points="587.5,473.1 602.7,464.3 602.7,460.3 587.5,469.1" fill="#d5d5e2"/>
<polygon points="587.5,469.1 575.4,462.1 590.6,453.3 602.7,460.3" fill="#fdfdfe"/>
<line x1="660.5" y1="448.6" x2="600.5" y2="481.6" stroke="#fdfdfd" stroke-width="5.2"/>
<line x1="660.5" y1="450.8" x2="600.5" y2="483.8" stroke="#d3262b" stroke-width="1.3"/>
<polygon points="662.1,445.5 657.8,447.9 655.6,453.5 659.9,451.1" fill="#e5262b"/>
<polygon points="655.4,449.2 651.1,451.6 648.9,457.2 653.2,454.8" fill="#e5262b"/>
<polygon points="648.8,452.9 644.4,455.2 642.2,460.8 646.6,458.5" fill="#e5262b"/>
<polygon points="642.1,456.5 637.8,458.9 635.6,464.5 639.9,462.1" fill="#e5262b"/>
<polygon points="635.4,460.2 631.1,462.6 628.9,468.2 633.2,465.8" fill="#e5262b"/>
<polygon points="628.8,463.9 624.4,466.2 622.2,471.8 626.6,469.5" fill="#e5262b"/>
<polygon points="622.1,467.5 617.8,469.9 615.6,475.5 619.9,473.1" fill="#e5262b"/>
<polygon points="615.4,471.2 611.1,473.6 608.9,479.2 613.2,476.8" fill="#e5262b"/>
<polygon points="608.8,474.9 604.4,477.2 602.2,482.8 606.6,480.5" fill="#e5262b"/>
<circle cx="597.5" cy="485.5" r="4.2" fill="#e9e9ee"/><circle cx="596.8" cy="485" r="2.3" fill="#fff"/>
<ellipse cx="195.9" cy="327.9" rx="3.1" ry="3.6" fill="#141416" transform="rotate(-20 195.9 327.9)"/>
<ellipse cx="196.4" cy="327.9" rx="0.9" ry="1.2" fill="#8d8d92" transform="rotate(-20 195.9 327.9)"/>
<polygon points="185.3,332 160.6,317.8 160.6,288.2 185.3,302.5" fill="#55565a"/>
<polygon points="185.3,332 203,321.8 203,292.2 203,292.2 185.3,302.5" fill="#c9c4ea"/>
<polygon points="185.3,302.5 160.6,288.2 178.4,278 203,292.2" fill="#fbfbfd"/>
<circle cx="196.9" cy="290.6" r="1.0" fill="#e8861e"/>
<circle cx="191" cy="287.2" r="0.65" fill="#e8861e"/>
<circle cx="188.5" cy="285.8" r="0.65" fill="#e8861e"/>
<circle cx="186.1" cy="284.3" r="0.65" fill="#e8861e"/>
<circle cx="180.1" cy="280.9" r="1.0" fill="#e8861e"/>
<polygon points="194.2,309.7 200.2,306.2 200.2,295.9 194.2,299.4" fill="#56706c"/>
<polygon points="202.8,308.6 204.6,307.6 204.6,292.4 202.8,293.4" fill="#f1f1f4"/>
<polygon points="185.3,332 183.7,331.1 183.7,301.6 185.3,302.5" fill="#bdb7e2"/>
<polygon points="162.2,318.6 160.6,317.8 160.6,288.2 162.2,289.1" fill="#bdb7e2"/>
<polygon points="185.3,303.9 160.6,289.6 160.6,288.2 185.3,302.5" fill="#bdb7e2"/>
<path d="M112.8,339.2 L146.3,319.8" stroke="#f4f4f7" stroke-width="11" stroke-linecap="round" fill="none"/>
<polygon points="131.6,363 106.9,348.8 106.9,342.8 131.6,357" fill="#6c6c6f"/>
<polygon points="131.6,363 185.3,332 185.3,326 131.6,357" fill="#5f5f62"/>
<polygon points="131.6,357 106.9,342.8 160.6,311.8 185.3,326" fill="#8b8b8e"/>
<polygon points="150.7,343.8 132.9,333.6 164.1,315.6 181.8,325.8" fill="#747477"/>
<path d="M135.4,333.9 l9,-6 l7,-1 l4,3 l-2,6 l-10,6 l-9,0 z" fill="#a9a9ac" stroke="#bcbcbf" stroke-width="0.8" stroke-linejoin="round"/>
<polygon points="130.7,362 126.4,359.5 126.4,355 130.7,357.5" fill="#e3262a"/>
<polygon points="112.1,351.2 107.8,348.8 107.8,344.2 112.1,346.8" fill="#e3262a"/>
<polygon points="124.7,358.5 113.8,352.2 113.8,347.8 124.7,354" fill="#c9c9cc"/>
<polygon points="131.6,362.5 130.7,362 130.7,357.5 131.6,358" fill="#e8861e"/>
<ellipse cx="166.8" cy="391.5" rx="3.7" ry="4.3" fill="#141416" transform="rotate(-20 166.8 391.5)"/>
<ellipse cx="167.3" cy="391.5" rx="1.1" ry="1.5" fill="#8d8d92" transform="rotate(-20 166.8 391.5)"/>
<ellipse cx="174.2" cy="387.2" rx="3.7" ry="4.3" fill="#141416" transform="rotate(-20 174.2 387.2)"/>
<ellipse cx="174.7" cy="387.2" rx="1.1" ry="1.5" fill="#8d8d92" transform="rotate(-20 174.2 387.2)"/>
<ellipse cx="181.5" cy="383" rx="3.7" ry="4.3" fill="#141416" transform="rotate(-20 181.5 383)"/>
<ellipse cx="182" cy="383" rx="1.1" ry="1.5" fill="#8d8d92" transform="rotate(-20 181.5 383)"/>
<polygon points="186.7,380 211.8,365.5 211.8,358.5 186.7,373" fill="#e4dccf"/>
<polygon points="156.4,392.5 228.3,351 228.3,346 156.4,387.5" fill="#e9dfd4"/>
<polygon points="156.4,387.5 134.3,374.8 134.3,350.8 156.4,363.5" fill="#e7ded7"/>
<polygon points="156.4,387.5 228.3,346 228.3,322 156.4,363.5" fill="#9da0bd"/>
<polygon points="156.4,363.5 134.3,350.8 206.2,309.2 228.3,322" fill="#babcd4"/>
<polygon points="156.4,400.5 134.3,387.8 134.3,374.8 156.4,387.5" fill="#e3d9d1"/>
<polygon points="155.5,398.5 152.9,397 152.9,394.5 155.5,396" fill="#e3262a"/>
<polygon points="137.8,388.2 135.2,386.8 135.2,384.2 137.8,385.8" fill="#e3262a"/>
<circle cx="160" cy="384.8" r="0.5" fill="#55586e"/>
<circle cx="163.7" cy="382.7" r="0.5" fill="#55586e"/>
<circle cx="167.3" cy="380.6" r="0.5" fill="#55586e"/>
<circle cx="170.9" cy="378.5" r="0.5" fill="#55586e"/>
<circle cx="174.6" cy="376.4" r="0.5" fill="#55586e"/>
<circle cx="178.2" cy="374.3" r="0.5" fill="#55586e"/>
<circle cx="181.9" cy="372.2" r="0.5" fill="#55586e"/>
<circle cx="185.5" cy="370.1" r="0.5" fill="#55586e"/>
<circle cx="189.1" cy="368" r="0.5" fill="#55586e"/>
<circle cx="192.8" cy="365.9" r="0.5" fill="#55586e"/>
<circle cx="196.4" cy="363.8" r="0.5" fill="#55586e"/>
<circle cx="200" cy="361.7" r="0.5" fill="#55586e"/>
<circle cx="203.7" cy="359.6" r="0.5" fill="#55586e"/>
<circle cx="207.3" cy="357.5" r="0.5" fill="#55586e"/>
<circle cx="211" cy="355.4" r="0.5" fill="#55586e"/>
<circle cx="214.6" cy="353.3" r="0.5" fill="#55586e"/>
<circle cx="218.2" cy="351.2" r="0.5" fill="#55586e"/>
<circle cx="221.9" cy="349.1" r="0.5" fill="#55586e"/>
<circle cx="225.5" cy="347" r="0.5" fill="#55586e"/>
<ellipse cx="319.9" cy="399.9" rx="3.1" ry="3.6" fill="#141416" transform="rotate(-20 319.9 399.9)"/>
<ellipse cx="320.4" cy="399.9" rx="0.9" ry="1.2" fill="#8d8d92" transform="rotate(-20 319.9 399.9)"/>
<polygon points="309,404.2 289.9,393.2 289.9,361.2 309,372.2" fill="#3c3c40"/>
<polygon points="309,404.2 327.2,393.8 327.2,369.8 322.5,364.4 309,372.2" fill="#79b4e6"/>
<polygon points="309,372.2 289.9,361.2 303.4,353.4 322.5,364.4" fill="#8cc1ee"/>
<circle cx="317.3" cy="363.3" r="1.0" fill="#f3f3f3"/>
<circle cx="312.7" cy="360.7" r="0.65" fill="#f3f3f3"/>
<circle cx="310.8" cy="359.6" r="0.65" fill="#f3f3f3"/>
<circle cx="308.9" cy="358.5" r="0.65" fill="#f3f3f3"/>
<circle cx="304.3" cy="355.9" r="1.0" fill="#f3f3f3"/>
<polygon points="318.1,385.3 324.2,381.7 324.2,373.4 318.1,377" fill="#3f4a5e"/>
<polygon points="326.9,383.4 328.7,382.4 328.7,369.9 326.9,370.9" fill="#f1f1f4"/>
<polygon points="309,404.2 307.2,403.2 307.2,371.2 309,372.2" fill="#6aa6dc"/>
<polygon points="291.6,394.2 289.9,393.2 289.9,361.2 291.6,362.2" fill="#6aa6dc"/>
<polygon points="307.2,376.2 291.6,367.2 291.6,362.2 307.2,371.2" fill="#74afe3"/>
<ellipse cx="229.7" cy="453.8" rx="3.7" ry="4.3" fill="#141416" transform="rotate(-20 229.7 453.8)"/>
<ellipse cx="230.2" cy="453.8" rx="1.1" ry="1.5" fill="#8d8d92" transform="rotate(-20 229.7 453.8)"/>
<ellipse cx="237.1" cy="449.6" rx="3.7" ry="4.3" fill="#141416" transform="rotate(-20 237.1 449.6)"/>
<ellipse cx="237.6" cy="449.6" rx="1.1" ry="1.5" fill="#8d8d92" transform="rotate(-20 237.1 449.6)"/>
<ellipse cx="244.5" cy="445.3" rx="3.7" ry="4.3" fill="#141416" transform="rotate(-20 244.5 445.3)"/>
<ellipse cx="245" cy="445.3" rx="1.1" ry="1.5" fill="#8d8d92" transform="rotate(-20 244.5 445.3)"/>
<polygon points="222.8,451.5 309,401.8 309,395.2 222.8,445" fill="#8f9093"/>
<polygon points="222.8,451.5 202,439.5 202,433 222.8,445" fill="#b5b6b9"/>
<polygon points="222.8,445 202,433 288.2,383.2 309,395.2" fill="#d5d6d9"/>
<polygon points="222.8,443.7 204.3,433 288.2,384.5 306.7,395.2" fill="#c5c8cc"/>
<polygon points="204.3,433 288.2,384.5 288.2,387.7 204.3,436.2" fill="#a3a4a7"/>
<polygon points="306.7,395.2 288.2,384.5 288.2,387.7 303.9,396.8" fill="#b3b4b7"/>
<polygon points="221.9,452.5 219.3,451 219.3,448.5 221.9,450" fill="#e3262a"/>
<polygon points="334.9,431 357.4,418 357.4,412 334.9,425" fill="#1c1c1e"/>
<ellipse cx="343.6" cy="429.3" rx="3.4" ry="4" fill="#141416" transform="rotate(-20 343.6 429.3)"/>
<ellipse cx="344.1" cy="429.3" rx="1" ry="1.4" fill="#8d8d92" transform="rotate(-20 343.6 429.3)"/>
<ellipse cx="366.4" cy="414.8" rx="3.1" ry="3.6" fill="#141416" transform="rotate(-20 366.4 414.8)"/>
<ellipse cx="366.9" cy="414.8" rx="0.9" ry="1.2" fill="#8d8d92" transform="rotate(-20 366.4 414.8)"/>
<polygon points="354,420 337.1,410.2 337.1,382.2 354,392" fill="#c4181f"/>
<polygon points="354,420 374.8,408 374.8,388 367.5,384.2 354,392" fill="#e8242a"/>
<polygon points="354,392 337.1,382.2 350.6,374.4 367.5,384.2" fill="#ee2d2f"/>
<circle cx="362.6" cy="383.3" r="1.0" fill="#f3f3f3"/>
<circle cx="358.6" cy="380.9" r="0.65" fill="#f3f3f3"/>
<circle cx="356.9" cy="380" r="0.65" fill="#f3f3f3"/>
<circle cx="355.2" cy="379" r="0.65" fill="#f3f3f3"/>
<circle cx="351.1" cy="376.7" r="1.0" fill="#f3f3f3"/>
<polygon points="364.4,402.7 371.4,398.7 371.4,391.9 364.4,396" fill="#6b7fa3"/>
<polygon points="374.5,399.6 376.3,398.6 376.3,388.1 374.5,389.1" fill="#f1f1f4"/>
<polygon points="326.3,437 334.9,432 334.9,429 326.3,434" fill="#e3262a"/>
<ellipse cx="275.2" cy="470.3" rx="3.7" ry="4.3" fill="#141416" transform="rotate(-20 275.2 470.3)"/>
<ellipse cx="275.7" cy="470.3" rx="1.1" ry="1.5" fill="#8d8d92" transform="rotate(-20 275.2 470.3)"/>
<ellipse cx="282.4" cy="466.1" rx="3.7" ry="4.3" fill="#141416" transform="rotate(-20 282.4 466.1)"/>
<ellipse cx="282.9" cy="466.1" rx="1.1" ry="1.5" fill="#8d8d92" transform="rotate(-20 282.4 466.1)"/>
<ellipse cx="289.5" cy="462" rx="3.7" ry="4.3" fill="#141416" transform="rotate(-20 289.5 462)"/>
<ellipse cx="290" cy="462" rx="1.1" ry="1.5" fill="#8d8d92" transform="rotate(-20 289.5 462)"/>
<polygon points="266.5,468.5 246.6,457 246.6,434 266.5,445.5" fill="#e9e3dc"/>
<polygon points="266.5,468.5 354,418 354,395 266.5,445.5" fill="#a8a09c"/>
<polygon points="266.5,445.5 246.6,434 334,383.5 354,395" fill="#f1eeea"/>
<polygon points="292.5,456 320.2,440 320.2,434.5 292.5,450.5" fill="#8a84a0"/>
<polygon points="266.1,471.2 263.9,470 263.9,467.5 266.1,468.8" fill="#e3262a"/>
<polygon points="249.2,461.5 247,460.2 247,457.8 249.2,459" fill="#e3262a"/>
<ellipse cx="395.1" cy="537.2" rx="3.9" ry="4.6" fill="#141416" transform="rotate(-20 395.1 537.2)"/>
<ellipse cx="395.6" cy="537.2" rx="1.2" ry="1.6" fill="#8d8d92" transform="rotate(-20 395.1 537.2)"/>
<ellipse cx="405.5" cy="531.2" rx="3.9" ry="4.6" fill="#141416" transform="rotate(-20 405.5 531.2)"/>
<ellipse cx="406" cy="531.2" rx="1.2" ry="1.6" fill="#8d8d92" transform="rotate(-20 405.5 531.2)"/>
<ellipse cx="417.2" cy="524.5" rx="3.9" ry="4.6" fill="#141416" transform="rotate(-20 417.2 524.5)"/>
<ellipse cx="417.7" cy="524.5" rx="1.2" ry="1.6" fill="#8d8d92" transform="rotate(-20 417.2 524.5)"/>
<polygon points="421.5,518 459.6,496 459.6,490.5 421.5,512.5" fill="#eceef0"/>
<polygon points="385.1,539 420.6,518.5 420.6,513.5 385.1,534" fill="#2a2a2d"/>
<polygon points="373,541.5 351.4,529 351.4,503 373,515.5" fill="#e8e9eb"/>
<polygon points="373,541.5 487.7,475.2 487.7,449.2 373,515.5" fill="#dadbde"/>
<polygon points="373,515.5 351.4,503 466.1,436.8 487.7,449.2" fill="#f4f5f7"/>
<polygon points="467,458.4 448.8,447.9 467,437.4 485.1,447.9" fill="#fbfbfc"/>
<text x="466.5" y="471.5" font-family="'DejaVu Sans', sans-serif" font-size="7" fill="#8fb0cc" text-anchor="middle">&#10052;</text>
<text x="473.5" y="466.5" font-family="'DejaVu Sans', sans-serif" font-size="7" fill="#8fb0cc" text-anchor="middle">&#10052;</text>
<text x="469.1" y="479" font-family="'DejaVu Sans', sans-serif" font-size="7" fill="#8fb0cc" text-anchor="middle">&#10052;</text>
<polygon points="372.1,547.5 369.5,546 369.5,543.5 372.1,545" fill="#e3262a"/>
<polygon points="354.8,537.5 352.2,536 352.2,533.5 354.8,535" fill="#e3262a"/>
<circle cx="492.8" cy="61.1" r="1.35" fill="#58b332"/>
<circle cx="492.8" cy="68.4" r="1.35" fill="#58b332"/>
<circle cx="492.8" cy="75.7" r="1.35" fill="#58b332"/>
<circle cx="492.8" cy="83" r="1.35" fill="#58b332"/>
<circle cx="492.8" cy="90.3" r="1.35" fill="#58b332"/>
<circle cx="492.8" cy="97.6" r="1.35" fill="#58b332"/>
<line x1="492.8" y1="101.9" x2="492.8" y2="112" stroke="#4c9a3a" stroke-width="0.9"/>
<circle cx="492.8" cy="112" r="1.35" fill="#3f9e2e"/>
<path transform="translate(498.6 51.3)" d="M0,0 C-4,-7.5 -9,-17 -11.8,-24 C-14.8,-31 -16.8,-38 -15.4,-43.5 C-14.2,-48 -10,-50.6 -5.6,-50.2 C2,-49.5 8,-42 11,-36 C13.6,-31 15.8,-26.5 15.3,-21.5 C14.8,-16.5 8.5,-9 0,0 Z" fill="url(#pinEdge)"/>
<path transform="translate(497.6 52)" d="M0,0 C-4,-7.5 -9,-17 -11.8,-24 C-14.8,-31 -16.8,-38 -15.4,-43.5 C-14.2,-48 -10,-50.6 -5.6,-50.2 C2,-49.5 8,-42 11,-36 C13.6,-31 15.8,-26.5 15.3,-21.5 C14.8,-16.5 8.5,-9 0,0 Z" fill="url(#pinEdge)"/>
<path transform="translate(496.6 52.7)" d="M0,0 C-4,-7.5 -9,-17 -11.8,-24 C-14.8,-31 -16.8,-38 -15.4,-43.5 C-14.2,-48 -10,-50.6 -5.6,-50.2 C2,-49.5 8,-42 11,-36 C13.6,-31 15.8,-26.5 15.3,-21.5 C14.8,-16.5 8.5,-9 0,0 Z" fill="url(#pinEdge)"/>
<path transform="translate(495.6 53.4)" d="M0,0 C-4,-7.5 -9,-17 -11.8,-24 C-14.8,-31 -16.8,-38 -15.4,-43.5 C-14.2,-48 -10,-50.6 -5.6,-50.2 C2,-49.5 8,-42 11,-36 C13.6,-31 15.8,-26.5 15.3,-21.5 C14.8,-16.5 8.5,-9 0,0 Z" fill="url(#pinEdge)"/>
<path transform="translate(494.5 54)" d="M0,0 C-4,-7.5 -9,-17 -11.8,-24 C-14.8,-31 -16.8,-38 -15.4,-43.5 C-14.2,-48 -10,-50.6 -5.6,-50.2 C2,-49.5 8,-42 11,-36 C13.6,-31 15.8,-26.5 15.3,-21.5 C14.8,-16.5 8.5,-9 0,0 Z" fill="url(#pinEdge)"/>
<path transform="translate(493.5 54.7)" d="M0,0 C-4,-7.5 -9,-17 -11.8,-24 C-14.8,-31 -16.8,-38 -15.4,-43.5 C-14.2,-48 -10,-50.6 -5.6,-50.2 C2,-49.5 8,-42 11,-36 C13.6,-31 15.8,-26.5 15.3,-21.5 C14.8,-16.5 8.5,-9 0,0 Z" fill="url(#pinEdge)"/>
<path transform="translate(492.5 55.4)" d="M0,0 C-4,-7.5 -9,-17 -11.8,-24 C-14.8,-31 -16.8,-38 -15.4,-43.5 C-14.2,-48 -10,-50.6 -5.6,-50.2 C2,-49.5 8,-42 11,-36 C13.6,-31 15.8,-26.5 15.3,-21.5 C14.8,-16.5 8.5,-9 0,0 Z" fill="#4cae34"/>
<circle cx="563.7" cy="95.2" r="1.35" fill="#58b332"/>
<circle cx="563.7" cy="102.5" r="1.35" fill="#58b332"/>
<circle cx="563.7" cy="109.8" r="1.35" fill="#58b332"/>
<circle cx="563.7" cy="117.1" r="1.35" fill="#58b332"/>
<circle cx="563.7" cy="124.4" r="1.35" fill="#58b332"/>
<circle cx="563.7" cy="131.7" r="1.35" fill="#58b332"/>
<line x1="563.7" y1="136" x2="563.7" y2="146.5" stroke="#4c9a3a" stroke-width="0.9"/>
<circle cx="563.7" cy="146.5" r="1.35" fill="#3f9e2e"/>
<path transform="translate(569.5 85.4)" d="M0,0 C-4,-7.5 -9,-17 -11.8,-24 C-14.8,-31 -16.8,-38 -15.4,-43.5 C-14.2,-48 -10,-50.6 -5.6,-50.2 C2,-49.5 8,-42 11,-36 C13.6,-31 15.8,-26.5 15.3,-21.5 C14.8,-16.5 8.5,-9 0,0 Z" fill="url(#pinEdge)"/>
<path transform="translate(568.5 86.1)" d="M0,0 C-4,-7.5 -9,-17 -11.8,-24 C-14.8,-31 -16.8,-38 -15.4,-43.5 C-14.2,-48 -10,-50.6 -5.6,-50.2 C2,-49.5 8,-42 11,-36 C13.6,-31 15.8,-26.5 15.3,-21.5 C14.8,-16.5 8.5,-9 0,0 Z" fill="url(#pinEdge)"/>
<path transform="translate(567.5 86.8)" d="M0,0 C-4,-7.5 -9,-17 -11.8,-24 C-14.8,-31 -16.8,-38 -15.4,-43.5 C-14.2,-48 -10,-50.6 -5.6,-50.2 C2,-49.5 8,-42 11,-36 C13.6,-31 15.8,-26.5 15.3,-21.5 C14.8,-16.5 8.5,-9 0,0 Z" fill="url(#pinEdge)"/>
<path transform="translate(566.4 87.5)" d="M0,0 C-4,-7.5 -9,-17 -11.8,-24 C-14.8,-31 -16.8,-38 -15.4,-43.5 C-14.2,-48 -10,-50.6 -5.6,-50.2 C2,-49.5 8,-42 11,-36 C13.6,-31 15.8,-26.5 15.3,-21.5 C14.8,-16.5 8.5,-9 0,0 Z" fill="url(#pinEdge)"/>
<path transform="translate(565.4 88.1)" d="M0,0 C-4,-7.5 -9,-17 -11.8,-24 C-14.8,-31 -16.8,-38 -15.4,-43.5 C-14.2,-48 -10,-50.6 -5.6,-50.2 C2,-49.5 8,-42 11,-36 C13.6,-31 15.8,-26.5 15.3,-21.5 C14.8,-16.5 8.5,-9 0,0 Z" fill="url(#pinEdge)"/>
<path transform="translate(564.4 88.8)" d="M0,0 C-4,-7.5 -9,-17 -11.8,-24 C-14.8,-31 -16.8,-38 -15.4,-43.5 C-14.2,-48 -10,-50.6 -5.6,-50.2 C2,-49.5 8,-42 11,-36 C13.6,-31 15.8,-26.5 15.3,-21.5 C14.8,-16.5 8.5,-9 0,0 Z" fill="url(#pinEdge)"/>
<path transform="translate(563.4 89.5)" d="M0,0 C-4,-7.5 -9,-17 -11.8,-24 C-14.8,-31 -16.8,-38 -15.4,-43.5 C-14.2,-48 -10,-50.6 -5.6,-50.2 C2,-49.5 8,-42 11,-36 C13.6,-31 15.8,-26.5 15.3,-21.5 C14.8,-16.5 8.5,-9 0,0 Z" fill="#4cae34"/>
<circle cx="644.6" cy="141.8" r="1.35" fill="#58b332"/>
<circle cx="644.6" cy="149.1" r="1.35" fill="#58b332"/>
<circle cx="644.6" cy="156.4" r="1.35" fill="#58b332"/>
<circle cx="644.6" cy="163.7" r="1.35" fill="#58b332"/>
<circle cx="644.6" cy="171" r="1.35" fill="#58b332"/>
<circle cx="644.6" cy="178.3" r="1.35" fill="#58b332"/>
<line x1="644.6" y1="182.6" x2="644.6" y2="193" stroke="#4c9a3a" stroke-width="0.9"/>
<circle cx="644.6" cy="193" r="1.35" fill="#3f9e2e"/>
<path transform="translate(650.4 132)" d="M0,0 C-4,-7.5 -9,-17 -11.8,-24 C-14.8,-31 -16.8,-38 -15.4,-43.5 C-14.2,-48 -10,-50.6 -5.6,-50.2 C2,-49.5 8,-42 11,-36 C13.6,-31 15.8,-26.5 15.3,-21.5 C14.8,-16.5 8.5,-9 0,0 Z" fill="url(#pinEdge)"/>
<path transform="translate(649.4 132.7)" d="M0,0 C-4,-7.5 -9,-17 -11.8,-24 C-14.8,-31 -16.8,-38 -15.4,-43.5 C-14.2,-48 -10,-50.6 -5.6,-50.2 C2,-49.5 8,-42 11,-36 C13.6,-31 15.8,-26.5 15.3,-21.5 C14.8,-16.5 8.5,-9 0,0 Z" fill="url(#pinEdge)"/>
<path transform="translate(648.4 133.4)" d="M0,0 C-4,-7.5 -9,-17 -11.8,-24 C-14.8,-31 -16.8,-38 -15.4,-43.5 C-14.2,-48 -10,-50.6 -5.6,-50.2 C2,-49.5 8,-42 11,-36 C13.6,-31 15.8,-26.5 15.3,-21.5 C14.8,-16.5 8.5,-9 0,0 Z" fill="url(#pinEdge)"/>
<path transform="translate(647.3 134.1)" d="M0,0 C-4,-7.5 -9,-17 -11.8,-24 C-14.8,-31 -16.8,-38 -15.4,-43.5 C-14.2,-48 -10,-50.6 -5.6,-50.2 C2,-49.5 8,-42 11,-36 C13.6,-31 15.8,-26.5 15.3,-21.5 C14.8,-16.5 8.5,-9 0,0 Z" fill="url(#pinEdge)"/>
<path transform="translate(646.3 134.7)" d="M0,0 C-4,-7.5 -9,-17 -11.8,-24 C-14.8,-31 -16.8,-38 -15.4,-43.5 C-14.2,-48 -10,-50.6 -5.6,-50.2 C2,-49.5 8,-42 11,-36 C13.6,-31 15.8,-26.5 15.3,-21.5 C14.8,-16.5 8.5,-9 0,0 Z" fill="url(#pinEdge)"/>
<path transform="translate(645.3 135.4)" d="M0,0 C-4,-7.5 -9,-17 -11.8,-24 C-14.8,-31 -16.8,-38 -15.4,-43.5 C-14.2,-48 -10,-50.6 -5.6,-50.2 C2,-49.5 8,-42 11,-36 C13.6,-31 15.8,-26.5 15.3,-21.5 C14.8,-16.5 8.5,-9 0,0 Z" fill="url(#pinEdge)"/>
<path transform="translate(644.3 136.1)" d="M0,0 C-4,-7.5 -9,-17 -11.8,-24 C-14.8,-31 -16.8,-38 -15.4,-43.5 C-14.2,-48 -10,-50.6 -5.6,-50.2 C2,-49.5 8,-42 11,-36 C13.6,-31 15.8,-26.5 15.3,-21.5 C14.8,-16.5 8.5,-9 0,0 Z" fill="#4cae34"/>
<circle cx="687.5" cy="167.7" r="1.35" fill="#58b332"/>
<circle cx="687.5" cy="175" r="1.35" fill="#58b332"/>
<circle cx="687.5" cy="182.3" r="1.35" fill="#58b332"/>
<circle cx="687.5" cy="189.6" r="1.35" fill="#58b332"/>
<circle cx="687.5" cy="196.9" r="1.35" fill="#58b332"/>
<line x1="687.5" y1="201.2" x2="687.5" y2="215" stroke="#4c9a3a" stroke-width="0.9"/>
<circle cx="687.5" cy="215" r="1.35" fill="#3f9e2e"/>
<path transform="translate(693.3 157.9)" d="M0,0 C-4,-7.5 -9,-17 -11.8,-24 C-14.8,-31 -16.8,-38 -15.4,-43.5 C-14.2,-48 -10,-50.6 -5.6,-50.2 C2,-49.5 8,-42 11,-36 C13.6,-31 15.8,-26.5 15.3,-21.5 C14.8,-16.5 8.5,-9 0,0 Z" fill="url(#pinEdge)"/>
<path transform="translate(692.3 158.6)" d="M0,0 C-4,-7.5 -9,-17 -11.8,-24 C-14.8,-31 -16.8,-38 -15.4,-43.5 C-14.2,-48 -10,-50.6 -5.6,-50.2 C2,-49.5 8,-42 11,-36 C13.6,-31 15.8,-26.5 15.3,-21.5 C14.8,-16.5 8.5,-9 0,0 Z" fill="url(#pinEdge)"/>
<path transform="translate(691.3 159.3)" d="M0,0 C-4,-7.5 -9,-17 -11.8,-24 C-14.8,-31 -16.8,-38 -15.4,-43.5 C-14.2,-48 -10,-50.6 -5.6,-50.2 C2,-49.5 8,-42 11,-36 C13.6,-31 15.8,-26.5 15.3,-21.5 C14.8,-16.5 8.5,-9 0,0 Z" fill="url(#pinEdge)"/>
<path transform="translate(690.2 159.9)" d="M0,0 C-4,-7.5 -9,-17 -11.8,-24 C-14.8,-31 -16.8,-38 -15.4,-43.5 C-14.2,-48 -10,-50.6 -5.6,-50.2 C2,-49.5 8,-42 11,-36 C13.6,-31 15.8,-26.5 15.3,-21.5 C14.8,-16.5 8.5,-9 0,0 Z" fill="url(#pinEdge)"/>
<path transform="translate(689.2 160.6)" d="M0,0 C-4,-7.5 -9,-17 -11.8,-24 C-14.8,-31 -16.8,-38 -15.4,-43.5 C-14.2,-48 -10,-50.6 -5.6,-50.2 C2,-49.5 8,-42 11,-36 C13.6,-31 15.8,-26.5 15.3,-21.5 C14.8,-16.5 8.5,-9 0,0 Z" fill="url(#pinEdge)"/>
<path transform="translate(688.2 161.3)" d="M0,0 C-4,-7.5 -9,-17 -11.8,-24 C-14.8,-31 -16.8,-38 -15.4,-43.5 C-14.2,-48 -10,-50.6 -5.6,-50.2 C2,-49.5 8,-42 11,-36 C13.6,-31 15.8,-26.5 15.3,-21.5 C14.8,-16.5 8.5,-9 0,0 Z" fill="url(#pinEdge)"/>
<path transform="translate(687.2 162)" d="M0,0 C-4,-7.5 -9,-17 -11.8,-24 C-14.8,-31 -16.8,-38 -15.4,-43.5 C-14.2,-48 -10,-50.6 -5.6,-50.2 C2,-49.5 8,-42 11,-36 C13.6,-31 15.8,-26.5 15.3,-21.5 C14.8,-16.5 8.5,-9 0,0 Z" fill="#4cae34"/>
<circle cx="146.8" cy="250.5" r="1.35" fill="#58b332"/>
<circle cx="146.8" cy="257.8" r="1.35" fill="#58b332"/>
<circle cx="146.8" cy="265.1" r="1.35" fill="#58b332"/>
<circle cx="146.8" cy="272.4" r="1.35" fill="#58b332"/>
<circle cx="146.8" cy="279.7" r="1.35" fill="#58b332"/>
<circle cx="146.8" cy="287" r="1.35" fill="#58b332"/>
<line x1="146.8" y1="291.3" x2="146.8" y2="301.6" stroke="#4c9a3a" stroke-width="0.9"/>
<circle cx="146.8" cy="301.6" r="1.35" fill="#3f9e2e"/>
<path transform="translate(152.6 240.7)" d="M0,0 C-4,-7.5 -9,-17 -11.8,-24 C-14.8,-31 -16.8,-38 -15.4,-43.5 C-14.2,-48 -10,-50.6 -5.6,-50.2 C2,-49.5 8,-42 11,-36 C13.6,-31 15.8,-26.5 15.3,-21.5 C14.8,-16.5 8.5,-9 0,0 Z" fill="url(#pinEdge)"/>
<path transform="translate(151.6 241.4)" d="M0,0 C-4,-7.5 -9,-17 -11.8,-24 C-14.8,-31 -16.8,-38 -15.4,-43.5 C-14.2,-48 -10,-50.6 -5.6,-50.2 C2,-49.5 8,-42 11,-36 C13.6,-31 15.8,-26.5 15.3,-21.5 C14.8,-16.5 8.5,-9 0,0 Z" fill="url(#pinEdge)"/>
<path transform="translate(150.6 242.1)" d="M0,0 C-4,-7.5 -9,-17 -11.8,-24 C-14.8,-31 -16.8,-38 -15.4,-43.5 C-14.2,-48 -10,-50.6 -5.6,-50.2 C2,-49.5 8,-42 11,-36 C13.6,-31 15.8,-26.5 15.3,-21.5 C14.8,-16.5 8.5,-9 0,0 Z" fill="url(#pinEdge)"/>
<path transform="translate(149.6 242.8)" d="M0,0 C-4,-7.5 -9,-17 -11.8,-24 C-14.8,-31 -16.8,-38 -15.4,-43.5 C-14.2,-48 -10,-50.6 -5.6,-50.2 C2,-49.5 8,-42 11,-36 C13.6,-31 15.8,-26.5 15.3,-21.5 C14.8,-16.5 8.5,-9 0,0 Z" fill="url(#pinEdge)"/>
<path transform="translate(148.5 243.4)" d="M0,0 C-4,-7.5 -9,-17 -11.8,-24 C-14.8,-31 -16.8,-38 -15.4,-43.5 C-14.2,-48 -10,-50.6 -5.6,-50.2 C2,-49.5 8,-42 11,-36 C13.6,-31 15.8,-26.5 15.3,-21.5 C14.8,-16.5 8.5,-9 0,0 Z" fill="url(#pinEdge)"/>
<path transform="translate(147.5 244.1)" d="M0,0 C-4,-7.5 -9,-17 -11.8,-24 C-14.8,-31 -16.8,-38 -15.4,-43.5 C-14.2,-48 -10,-50.6 -5.6,-50.2 C2,-49.5 8,-42 11,-36 C13.6,-31 15.8,-26.5 15.3,-21.5 C14.8,-16.5 8.5,-9 0,0 Z" fill="url(#pinEdge)"/>
<path transform="translate(146.5 244.8)" d="M0,0 C-4,-7.5 -9,-17 -11.8,-24 C-14.8,-31 -16.8,-38 -15.4,-43.5 C-14.2,-48 -10,-50.6 -5.6,-50.2 C2,-49.5 8,-42 11,-36 C13.6,-31 15.8,-26.5 15.3,-21.5 C14.8,-16.5 8.5,-9 0,0 Z" fill="#4cae34"/>
<circle cx="270.5" cy="316.7" r="1.35" fill="#58b332"/>
<circle cx="270.5" cy="324" r="1.35" fill="#58b332"/>
<circle cx="270.5" cy="331.3" r="1.35" fill="#58b332"/>
<circle cx="270.5" cy="338.6" r="1.35" fill="#58b332"/>
<circle cx="270.5" cy="345.9" r="1.35" fill="#58b332"/>
<circle cx="270.5" cy="353.2" r="1.35" fill="#58b332"/>
<line x1="270.5" y1="357.5" x2="270.5" y2="368" stroke="#4c9a3a" stroke-width="0.9"/>
<circle cx="270.5" cy="368" r="1.35" fill="#3f9e2e"/>
<path transform="translate(276.3 306.9)" d="M0,0 C-4,-7.5 -9,-17 -11.8,-24 C-14.8,-31 -16.8,-38 -15.4,-43.5 C-14.2,-48 -10,-50.6 -5.6,-50.2 C2,-49.5 8,-42 11,-36 C13.6,-31 15.8,-26.5 15.3,-21.5 C14.8,-16.5 8.5,-9 0,0 Z" fill="url(#pinEdge)"/>
<path transform="translate(275.3 307.6)" d="M0,0 C-4,-7.5 -9,-17 -11.8,-24 C-14.8,-31 -16.8,-38 -15.4,-43.5 C-14.2,-48 -10,-50.6 -5.6,-50.2 C2,-49.5 8,-42 11,-36 C13.6,-31 15.8,-26.5 15.3,-21.5 C14.8,-16.5 8.5,-9 0,0 Z" fill="url(#pinEdge)"/>
<path transform="translate(274.3 308.3)" d="M0,0 C-4,-7.5 -9,-17 -11.8,-24 C-14.8,-31 -16.8,-38 -15.4,-43.5 C-14.2,-48 -10,-50.6 -5.6,-50.2 C2,-49.5 8,-42 11,-36 C13.6,-31 15.8,-26.5 15.3,-21.5 C14.8,-16.5 8.5,-9 0,0 Z" fill="url(#pinEdge)"/>
<path transform="translate(273.2 308.9)" d="M0,0 C-4,-7.5 -9,-17 -11.8,-24 C-14.8,-31 -16.8,-38 -15.4,-43.5 C-14.2,-48 -10,-50.6 -5.6,-50.2 C2,-49.5 8,-42 11,-36 C13.6,-31 15.8,-26.5 15.3,-21.5 C14.8,-16.5 8.5,-9 0,0 Z" fill="url(#pinEdge)"/>
<path transform="translate(272.2 309.6)" d="M0,0 C-4,-7.5 -9,-17 -11.8,-24 C-14.8,-31 -16.8,-38 -15.4,-43.5 C-14.2,-48 -10,-50.6 -5.6,-50.2 C2,-49.5 8,-42 11,-36 C13.6,-31 15.8,-26.5 15.3,-21.5 C14.8,-16.5 8.5,-9 0,0 Z" fill="url(#pinEdge)"/>
<path transform="translate(271.2 310.3)" d="M0,0 C-4,-7.5 -9,-17 -11.8,-24 C-14.8,-31 -16.8,-38 -15.4,-43.5 C-14.2,-48 -10,-50.6 -5.6,-50.2 C2,-49.5 8,-42 11,-36 C13.6,-31 15.8,-26.5 15.3,-21.5 C14.8,-16.5 8.5,-9 0,0 Z" fill="url(#pinEdge)"/>
<path transform="translate(270.2 311)" d="M0,0 C-4,-7.5 -9,-17 -11.8,-24 C-14.8,-31 -16.8,-38 -15.4,-43.5 C-14.2,-48 -10,-50.6 -5.6,-50.2 C2,-49.5 8,-42 11,-36 C13.6,-31 15.8,-26.5 15.3,-21.5 C14.8,-16.5 8.5,-9 0,0 Z" fill="#4cae34"/>
<circle cx="392.3" cy="384.5" r="1.35" fill="#58b332"/>
<circle cx="392.3" cy="391.8" r="1.35" fill="#58b332"/>
<circle cx="392.3" cy="399.1" r="1.35" fill="#58b332"/>
<circle cx="392.3" cy="406.4" r="1.35" fill="#58b332"/>
<circle cx="392.3" cy="413.7" r="1.35" fill="#58b332"/>
<circle cx="392.3" cy="421" r="1.35" fill="#58b332"/>
<line x1="392.3" y1="425.3" x2="392.3" y2="436.2" stroke="#4c9a3a" stroke-width="0.9"/>
<circle cx="392.3" cy="436.2" r="1.35" fill="#3f9e2e"/>
<path transform="translate(398.1 374.7)" d="M0,0 C-4,-7.5 -9,-17 -11.8,-24 C-14.8,-31 -16.8,-38 -15.4,-43.5 C-14.2,-48 -10,-50.6 -5.6,-50.2 C2,-49.5 8,-42 11,-36 C13.6,-31 15.8,-26.5 15.3,-21.5 C14.8,-16.5 8.5,-9 0,0 Z" fill="url(#pinEdge)"/>
<path transform="translate(397.1 375.4)" d="M0,0 C-4,-7.5 -9,-17 -11.8,-24 C-14.8,-31 -16.8,-38 -15.4,-43.5 C-14.2,-48 -10,-50.6 -5.6,-50.2 C2,-49.5 8,-42 11,-36 C13.6,-31 15.8,-26.5 15.3,-21.5 C14.8,-16.5 8.5,-9 0,0 Z" fill="url(#pinEdge)"/>
<path transform="translate(396.1 376.1)" d="M0,0 C-4,-7.5 -9,-17 -11.8,-24 C-14.8,-31 -16.8,-38 -15.4,-43.5 C-14.2,-48 -10,-50.6 -5.6,-50.2 C2,-49.5 8,-42 11,-36 C13.6,-31 15.8,-26.5 15.3,-21.5 C14.8,-16.5 8.5,-9 0,0 Z" fill="url(#pinEdge)"/>
<path transform="translate(395.1 376.8)" d="M0,0 C-4,-7.5 -9,-17 -11.8,-24 C-14.8,-31 -16.8,-38 -15.4,-43.5 C-14.2,-48 -10,-50.6 -5.6,-50.2 C2,-49.5 8,-42 11,-36 C13.6,-31 15.8,-26.5 15.3,-21.5 C14.8,-16.5 8.5,-9 0,0 Z" fill="url(#pinEdge)"/>
<path transform="translate(394 377.4)" d="M0,0 C-4,-7.5 -9,-17 -11.8,-24 C-14.8,-31 -16.8,-38 -15.4,-43.5 C-14.2,-48 -10,-50.6 -5.6,-50.2 C2,-49.5 8,-42 11,-36 C13.6,-31 15.8,-26.5 15.3,-21.5 C14.8,-16.5 8.5,-9 0,0 Z" fill="url(#pinEdge)"/>
<path transform="translate(393 378.1)" d="M0,0 C-4,-7.5 -9,-17 -11.8,-24 C-14.8,-31 -16.8,-38 -15.4,-43.5 C-14.2,-48 -10,-50.6 -5.6,-50.2 C2,-49.5 8,-42 11,-36 C13.6,-31 15.8,-26.5 15.3,-21.5 C14.8,-16.5 8.5,-9 0,0 Z" fill="url(#pinEdge)"/>
<path transform="translate(392 378.8)" d="M0,0 C-4,-7.5 -9,-17 -11.8,-24 C-14.8,-31 -16.8,-38 -15.4,-43.5 C-14.2,-48 -10,-50.6 -5.6,-50.2 C2,-49.5 8,-42 11,-36 C13.6,-31 15.8,-26.5 15.3,-21.5 C14.8,-16.5 8.5,-9 0,0 Z" fill="#4cae34"/>
<circle cx="431.8" cy="409" r="1.35" fill="#58b332"/>
<circle cx="431.8" cy="416.3" r="1.35" fill="#58b332"/>
<circle cx="431.8" cy="423.6" r="1.35" fill="#58b332"/>
<circle cx="431.8" cy="430.9" r="1.35" fill="#58b332"/>
<circle cx="431.8" cy="438.2" r="1.35" fill="#58b332"/>
<line x1="431.8" y1="442.5" x2="431.8" y2="454.4" stroke="#4c9a3a" stroke-width="0.9"/>
<circle cx="431.8" cy="454.4" r="1.35" fill="#3f9e2e"/>
<path transform="translate(437.6 399.2)" d="M0,0 C-4,-7.5 -9,-17 -11.8,-24 C-14.8,-31 -16.8,-38 -15.4,-43.5 C-14.2,-48 -10,-50.6 -5.6,-50.2 C2,-49.5 8,-42 11,-36 C13.6,-31 15.8,-26.5 15.3,-21.5 C14.8,-16.5 8.5,-9 0,0 Z" fill="url(#pinEdge)"/>
<path transform="translate(436.6 399.9)" d="M0,0 C-4,-7.5 -9,-17 -11.8,-24 C-14.8,-31 -16.8,-38 -15.4,-43.5 C-14.2,-48 -10,-50.6 -5.6,-50.2 C2,-49.5 8,-42 11,-36 C13.6,-31 15.8,-26.5 15.3,-21.5 C14.8,-16.5 8.5,-9 0,0 Z" fill="url(#pinEdge)"/>
<path transform="translate(435.6 400.6)" d="M0,0 C-4,-7.5 -9,-17 -11.8,-24 C-14.8,-31 -16.8,-38 -15.4,-43.5 C-14.2,-48 -10,-50.6 -5.6,-50.2 C2,-49.5 8,-42 11,-36 C13.6,-31 15.8,-26.5 15.3,-21.5 C14.8,-16.5 8.5,-9 0,0 Z" fill="url(#pinEdge)"/>
<path transform="translate(434.6 401.2)" d="M0,0 C-4,-7.5 -9,-17 -11.8,-24 C-14.8,-31 -16.8,-38 -15.4,-43.5 C-14.2,-48 -10,-50.6 -5.6,-50.2 C2,-49.5 8,-42 11,-36 C13.6,-31 15.8,-26.5 15.3,-21.5 C14.8,-16.5 8.5,-9 0,0 Z" fill="url(#pinEdge)"/>
<path transform="translate(433.5 401.9)" d="M0,0 C-4,-7.5 -9,-17 -11.8,-24 C-14.8,-31 -16.8,-38 -15.4,-43.5 C-14.2,-48 -10,-50.6 -5.6,-50.2 C2,-49.5 8,-42 11,-36 C13.6,-31 15.8,-26.5 15.3,-21.5 C14.8,-16.5 8.5,-9 0,0 Z" fill="url(#pinEdge)"/>
<path transform="translate(432.5 402.6)" d="M0,0 C-4,-7.5 -9,-17 -11.8,-24 C-14.8,-31 -16.8,-38 -15.4,-43.5 C-14.2,-48 -10,-50.6 -5.6,-50.2 C2,-49.5 8,-42 11,-36 C13.6,-31 15.8,-26.5 15.3,-21.5 C14.8,-16.5 8.5,-9 0,0 Z" fill="url(#pinEdge)"/>
<path transform="translate(431.5 403.3)" d="M0,0 C-4,-7.5 -9,-17 -11.8,-24 C-14.8,-31 -16.8,-38 -15.4,-43.5 C-14.2,-48 -10,-50.6 -5.6,-50.2 C2,-49.5 8,-42 11,-36 C13.6,-31 15.8,-26.5 15.3,-21.5 C14.8,-16.5 8.5,-9 0,0 Z" fill="#4cae34"/>
<line x1="31.1" y1="366.2" x2="31.1" y2="306.2" stroke="#434346" stroke-width="1.1"/>
<line x1="35.5" y1="368.7" x2="35.5" y2="308.7" stroke="#434346" stroke-width="1.1"/>
<line x1="40" y1="371.3" x2="40" y2="311.3" stroke="#434346" stroke-width="1.1"/>
<line x1="44.4" y1="373.9" x2="44.4" y2="313.9" stroke="#434346" stroke-width="1.1"/>
<line x1="48.9" y1="376.4" x2="48.9" y2="316.4" stroke="#434346" stroke-width="1.1"/>
<line x1="53.3" y1="379" x2="53.3" y2="319" stroke="#434346" stroke-width="1.1"/>
<line x1="57.8" y1="381.6" x2="57.8" y2="321.6" stroke="#434346" stroke-width="1.1"/>
<line x1="62.2" y1="384.1" x2="62.2" y2="324.1" stroke="#434346" stroke-width="1.1"/>
<line x1="66.7" y1="386.7" x2="66.7" y2="326.7" stroke="#434346" stroke-width="1.1"/>
<line x1="71.1" y1="389.3" x2="71.1" y2="329.3" stroke="#434346" stroke-width="1.1"/>
<line x1="75.6" y1="391.8" x2="75.6" y2="331.8" stroke="#434346" stroke-width="1.1"/>
<line x1="80" y1="394.4" x2="80" y2="334.4" stroke="#434346" stroke-width="1.1"/>
<line x1="26.6" y1="307.6" x2="84.5" y2="341" stroke="#434346" stroke-width="0.9"/>
<line x1="26.6" y1="335.6" x2="84.5" y2="369" stroke="#434346" stroke-width="0.9"/>
<line x1="89" y1="399.5" x2="89" y2="339.5" stroke="#434346" stroke-width="1.1"/>
<line x1="93.4" y1="402.1" x2="93.4" y2="342.1" stroke="#434346" stroke-width="1.1"/>
<line x1="97.9" y1="404.6" x2="97.9" y2="344.6" stroke="#434346" stroke-width="1.1"/>
<line x1="102.3" y1="407.2" x2="102.3" y2="347.2" stroke="#434346" stroke-width="1.1"/>
<line x1="106.8" y1="409.8" x2="106.8" y2="349.8" stroke="#434346" stroke-width="1.1"/>
<line x1="111.2" y1="412.3" x2="111.2" y2="352.3" stroke="#434346" stroke-width="1.1"/>
<line x1="115.7" y1="414.9" x2="115.7" y2="354.9" stroke="#434346" stroke-width="1.1"/>
<line x1="120.1" y1="417.5" x2="120.1" y2="357.5" stroke="#434346" stroke-width="1.1"/>
<line x1="124.6" y1="420" x2="124.6" y2="360" stroke="#434346" stroke-width="1.1"/>
<line x1="129" y1="422.6" x2="129" y2="362.6" stroke="#434346" stroke-width="1.1"/>
<line x1="133.5" y1="425.2" x2="133.5" y2="365.2" stroke="#434346" stroke-width="1.1"/>
<line x1="137.9" y1="427.7" x2="137.9" y2="367.7" stroke="#434346" stroke-width="1.1"/>
<line x1="84.5" y1="341" x2="142.4" y2="374.3" stroke="#434346" stroke-width="0.9"/>
<line x1="84.5" y1="369" x2="142.4" y2="402.3" stroke="#434346" stroke-width="0.9"/>
<line x1="146.9" y1="432.9" x2="146.9" y2="372.9" stroke="#434346" stroke-width="1.1"/>
<line x1="151.3" y1="435.4" x2="151.3" y2="375.4" stroke="#434346" stroke-width="1.1"/>
<line x1="155.8" y1="438" x2="155.8" y2="378" stroke="#434346" stroke-width="1.1"/>
<line x1="160.2" y1="440.6" x2="160.2" y2="380.6" stroke="#434346" stroke-width="1.1"/>
<line x1="164.7" y1="443.1" x2="164.7" y2="383.1" stroke="#434346" stroke-width="1.1"/>
<line x1="169.1" y1="445.7" x2="169.1" y2="385.7" stroke="#434346" stroke-width="1.1"/>
<line x1="173.6" y1="448.3" x2="173.6" y2="388.3" stroke="#434346" stroke-width="1.1"/>
<line x1="178" y1="450.8" x2="178" y2="390.8" stroke="#434346" stroke-width="1.1"/>
<line x1="182.5" y1="453.4" x2="182.5" y2="393.4" stroke="#434346" stroke-width="1.1"/>
<line x1="186.9" y1="456" x2="186.9" y2="396" stroke="#434346" stroke-width="1.1"/>
<line x1="191.4" y1="458.5" x2="191.4" y2="398.5" stroke="#434346" stroke-width="1.1"/>
<line x1="195.8" y1="461.1" x2="195.8" y2="401.1" stroke="#434346" stroke-width="1.1"/>
<line x1="142.4" y1="374.3" x2="200.3" y2="407.7" stroke="#434346" stroke-width="0.9"/>
<line x1="142.4" y1="402.3" x2="200.3" y2="435.7" stroke="#434346" stroke-width="0.9"/>
<line x1="204.8" y1="466.2" x2="204.8" y2="406.2" stroke="#434346" stroke-width="1.1"/>
<line x1="209.2" y1="468.8" x2="209.2" y2="408.8" stroke="#434346" stroke-width="1.1"/>
<line x1="213.7" y1="471.3" x2="213.7" y2="411.3" stroke="#434346" stroke-width="1.1"/>
<line x1="218.1" y1="473.9" x2="218.1" y2="413.9" stroke="#434346" stroke-width="1.1"/>
<line x1="222.6" y1="476.5" x2="222.6" y2="416.5" stroke="#434346" stroke-width="1.1"/>
<line x1="227" y1="479" x2="227" y2="419" stroke="#434346" stroke-width="1.1"/>
<line x1="231.5" y1="481.6" x2="231.5" y2="421.6" stroke="#434346" stroke-width="1.1"/>
<line x1="235.9" y1="484.2" x2="235.9" y2="424.2" stroke="#434346" stroke-width="1.1"/>
<line x1="240.4" y1="486.7" x2="240.4" y2="426.7" stroke="#434346" stroke-width="1.1"/>
<line x1="244.8" y1="489.3" x2="244.8" y2="429.3" stroke="#434346" stroke-width="1.1"/>
<line x1="249.3" y1="491.9" x2="249.3" y2="431.9" stroke="#434346" stroke-width="1.1"/>
<line x1="253.7" y1="494.4" x2="253.7" y2="434.4" stroke="#434346" stroke-width="1.1"/>
<line x1="200.3" y1="407.7" x2="258.2" y2="441" stroke="#434346" stroke-width="0.9"/>
<line x1="200.3" y1="435.7" x2="258.2" y2="469" stroke="#434346" stroke-width="0.9"/>
<line x1="262.7" y1="499.6" x2="262.7" y2="439.6" stroke="#434346" stroke-width="1.1"/>
<line x1="267.1" y1="502.1" x2="267.1" y2="442.1" stroke="#434346" stroke-width="1.1"/>
<line x1="271.6" y1="504.7" x2="271.6" y2="444.7" stroke="#434346" stroke-width="1.1"/>
<line x1="276" y1="507.3" x2="276" y2="447.3" stroke="#434346" stroke-width="1.1"/>
<line x1="280.5" y1="509.8" x2="280.5" y2="449.8" stroke="#434346" stroke-width="1.1"/>
<line x1="284.9" y1="512.4" x2="284.9" y2="452.4" stroke="#434346" stroke-width="1.1"/>
<line x1="289.4" y1="515" x2="289.4" y2="455" stroke="#434346" stroke-width="1.1"/>
<line x1="293.8" y1="517.5" x2="293.8" y2="457.5" stroke="#434346" stroke-width="1.1"/>
<line x1="298.3" y1="520.1" x2="298.3" y2="460.1" stroke="#434346" stroke-width="1.1"/>
<line x1="302.7" y1="522.7" x2="302.7" y2="462.7" stroke="#434346" stroke-width="1.1"/>
<line x1="307.2" y1="525.2" x2="307.2" y2="465.2" stroke="#434346" stroke-width="1.1"/>
<line x1="311.6" y1="527.8" x2="311.6" y2="467.8" stroke="#434346" stroke-width="1.1"/>
<line x1="258.2" y1="441" x2="316.1" y2="474.4" stroke="#434346" stroke-width="0.9"/>
<line x1="258.2" y1="469" x2="316.1" y2="502.4" stroke="#434346" stroke-width="0.9"/>
<line x1="320.6" y1="532.9" x2="320.6" y2="472.9" stroke="#434346" stroke-width="1.1"/>
<line x1="325" y1="535.5" x2="325" y2="475.5" stroke="#434346" stroke-width="1.1"/>
<line x1="329.5" y1="538" x2="329.5" y2="478" stroke="#434346" stroke-width="1.1"/>
<line x1="333.9" y1="540.6" x2="333.9" y2="480.6" stroke="#434346" stroke-width="1.1"/>
<line x1="338.4" y1="543.2" x2="338.4" y2="483.2" stroke="#434346" stroke-width="1.1"/>
<line x1="342.8" y1="545.7" x2="342.8" y2="485.7" stroke="#434346" stroke-width="1.1"/>
<line x1="347.3" y1="548.3" x2="347.3" y2="488.3" stroke="#434346" stroke-width="1.1"/>
<line x1="351.7" y1="550.9" x2="351.7" y2="490.9" stroke="#434346" stroke-width="1.1"/>
<line x1="356.2" y1="553.4" x2="356.2" y2="493.4" stroke="#434346" stroke-width="1.1"/>
<line x1="360.6" y1="556" x2="360.6" y2="496" stroke="#434346" stroke-width="1.1"/>
<line x1="365.1" y1="558.6" x2="365.1" y2="498.6" stroke="#434346" stroke-width="1.1"/>
<line x1="369.5" y1="561.1" x2="369.5" y2="501.1" stroke="#434346" stroke-width="1.1"/>
<line x1="316.1" y1="474.4" x2="374" y2="507.7" stroke="#434346" stroke-width="0.9"/>
<line x1="316.1" y1="502.4" x2="374" y2="535.7" stroke="#434346" stroke-width="0.9"/>
<line x1="378.5" y1="566.3" x2="378.5" y2="506.3" stroke="#434346" stroke-width="1.1"/>
<line x1="382.9" y1="568.8" x2="382.9" y2="508.8" stroke="#434346" stroke-width="1.1"/>
<line x1="387.4" y1="571.4" x2="387.4" y2="511.4" stroke="#434346" stroke-width="1.1"/>
<line x1="391.8" y1="574" x2="391.8" y2="514" stroke="#434346" stroke-width="1.1"/>
<line x1="396.3" y1="576.5" x2="396.3" y2="516.5" stroke="#434346" stroke-width="1.1"/>
<line x1="400.7" y1="579.1" x2="400.7" y2="519.1" stroke="#434346" stroke-width="1.1"/>
<line x1="405.2" y1="581.7" x2="405.2" y2="521.7" stroke="#434346" stroke-width="1.1"/>
<line x1="409.6" y1="584.2" x2="409.6" y2="524.2" stroke="#434346" stroke-width="1.1"/>
<line x1="414.1" y1="586.8" x2="414.1" y2="526.8" stroke="#434346" stroke-width="1.1"/>
<line x1="418.5" y1="589.4" x2="418.5" y2="529.4" stroke="#434346" stroke-width="1.1"/>
<line x1="423" y1="591.9" x2="423" y2="531.9" stroke="#434346" stroke-width="1.1"/>
<line x1="427.4" y1="594.5" x2="427.4" y2="534.5" stroke="#434346" stroke-width="1.1"/>
<line x1="374" y1="507.7" x2="431.9" y2="541.1" stroke="#434346" stroke-width="0.9"/>
<line x1="374" y1="535.7" x2="431.9" y2="569.1" stroke="#434346" stroke-width="0.9"/>
<line x1="436.4" y1="599.6" x2="436.4" y2="539.6" stroke="#434346" stroke-width="1.1"/>
<line x1="440.8" y1="602.2" x2="440.8" y2="542.2" stroke="#434346" stroke-width="1.1"/>
<line x1="445.3" y1="604.7" x2="445.3" y2="544.7" stroke="#434346" stroke-width="1.1"/>
<line x1="449.7" y1="607.3" x2="449.7" y2="547.3" stroke="#434346" stroke-width="1.1"/>
<line x1="454.2" y1="609.9" x2="454.2" y2="549.9" stroke="#434346" stroke-width="1.1"/>
<line x1="458.6" y1="612.4" x2="458.6" y2="552.4" stroke="#434346" stroke-width="1.1"/>
<line x1="463.1" y1="615" x2="463.1" y2="555" stroke="#434346" stroke-width="1.1"/>
<line x1="467.5" y1="617.6" x2="467.5" y2="557.6" stroke="#434346" stroke-width="1.1"/>
<line x1="472" y1="620.1" x2="472" y2="560.1" stroke="#434346" stroke-width="1.1"/>
<line x1="476.4" y1="622.7" x2="476.4" y2="562.7" stroke="#434346" stroke-width="1.1"/>
<line x1="480.9" y1="625.3" x2="480.9" y2="565.3" stroke="#434346" stroke-width="1.1"/>
<line x1="485.3" y1="627.8" x2="485.3" y2="567.8" stroke="#434346" stroke-width="1.1"/>
<line x1="431.9" y1="541.1" x2="489.8" y2="574.4" stroke="#434346" stroke-width="0.9"/>
<line x1="431.9" y1="569.1" x2="489.8" y2="602.4" stroke="#434346" stroke-width="0.9"/>
<rect x="24.6" y="302.6" width="4" height="65" fill="#4e4f53"/>
<rect x="25.8" y="302.6" width="1.4" height="65" fill="#8e8f93"/>
<rect x="82.5" y="336" width="4" height="65" fill="#4e4f53"/>
<rect x="83.7" y="336" width="1.4" height="65" fill="#8e8f93"/>
<rect x="140.4" y="369.3" width="4" height="65" fill="#4e4f53"/>
<rect x="141.6" y="369.3" width="1.4" height="65" fill="#8e8f93"/>
<rect x="198.3" y="402.7" width="4" height="65" fill="#4e4f53"/>
<rect x="199.5" y="402.7" width="1.4" height="65" fill="#8e8f93"/>
<rect x="256.2" y="436" width="4" height="65" fill="#4e4f53"/>
<rect x="257.4" y="436" width="1.4" height="65" fill="#8e8f93"/>
<rect x="314.1" y="469.4" width="4" height="65" fill="#4e4f53"/>
<rect x="315.3" y="469.4" width="1.4" height="65" fill="#8e8f93"/>
<rect x="372" y="502.7" width="4" height="65" fill="#4e4f53"/>
<rect x="373.2" y="502.7" width="1.4" height="65" fill="#8e8f93"/>
<rect x="429.9" y="536.1" width="4" height="65" fill="#4e4f53"/>
<rect x="431.1" y="536.1" width="1.4" height="65" fill="#8e8f93"/>
<rect x="487.8" y="569.4" width="4" height="65" fill="#4e4f53"/>
<rect x="489" y="569.4" width="1.4" height="65" fill="#8e8f93"/>
<line x1="581" y1="594.5" x2="581" y2="513.3" stroke="#77787b" stroke-width="1.4"/>
<line x1="584.5" y1="592.4" x2="584.5" y2="511.2" stroke="#77787b" stroke-width="1.4"/>
<line x1="588.1" y1="590.4" x2="588.1" y2="509.2" stroke="#77787b" stroke-width="1.4"/>
<line x1="591.6" y1="588.3" x2="591.6" y2="507.1" stroke="#77787b" stroke-width="1.4"/>
<line x1="595.1" y1="586.3" x2="595.1" y2="505" stroke="#77787b" stroke-width="1.4"/>
<line x1="598.6" y1="584.2" x2="598.6" y2="502.9" stroke="#77787b" stroke-width="1.4"/>
<line x1="602.2" y1="582.2" x2="602.2" y2="500.9" stroke="#77787b" stroke-width="1.4"/>
<line x1="605.7" y1="580.2" x2="605.7" y2="498.8" stroke="#77787b" stroke-width="1.4"/>
<line x1="609.2" y1="578.1" x2="609.2" y2="496.7" stroke="#77787b" stroke-width="1.4"/>
<line x1="612.8" y1="576.1" x2="612.8" y2="494.6" stroke="#77787b" stroke-width="1.4"/>
<line x1="616.3" y1="574" x2="616.3" y2="492.6" stroke="#77787b" stroke-width="1.4"/>
<line x1="596.4" y1="540.4" x2="619" y2="572.5" stroke="#a3a5a8" stroke-width="2"/>
<polygon points="577.5,598.5 577.5,512.4 619.8,487.5 619.8,574" fill="none" stroke="#a3a5a8" stroke-width="3.2"/>
<path d="M515,517 L515,498 C514,490 505,480 501.6,470 C499,462 499.5,452 498,442 C496,432 488,421 484,413 C480.5,407 480.5,400.5 488,400.5 L507,401 L507,432 L596,440 L597,472 C596,484 585,488 581.5,497 L578.5,517 Z" fill="url(#skin)"/>
<path d="M484.5,403 C483,406 484,410 486.5,414 C488,411 489,406 488.5,402.5 Z" fill="#fde3cd"/>
<rect x="505.5" y="324.3" width="91" height="159.5" rx="9" ry="9" fill="url(#phoneG)"/>
<path d="M572,483.8 L560,445 L596,420 L596.5,475 Q596.5,483.8 588,483.8 Z" fill="#5f98d6" opacity="0.55"/>
<rect x="512" y="334.7" width="77.5" height="96.5" fill="#000"/>
<circle cx="551" cy="329.3" r="1.4" fill="#0a0a14"/>
<rect x="512" y="431" width="77.5" height="31.8" fill="#f2f5f0"/>
<g fill="none" stroke="#14913c" stroke-width="1.3"><path d="M528,431 C533,438 534,442 541,444 C548,446 556,444 562,440 C568,436 572,434 576,431"/><path d="M541,444 C538,452 534,458 529,463"/><path d="M545,446 C552,450 558,456 561,463"/></g>
<g fill="#d3e8d2"><rect x="514" y="436" width="9" height="5" rx="2"/><rect x="519" y="449" width="12" height="7" rx="3"/><rect x="566" y="446" width="13" height="6" rx="3"/><rect x="574" y="455" width="11" height="5" rx="2"/></g>
<g fill="none" stroke="#c9cdd0" stroke-width="0.6"><path d="M512,447 L540,452 L589,441"/><path d="M552,431 L549,463"/><path d="M566,431 L574,463"/></g>
<polygon points="544.5,449 547.5,459.5 541.5,459.5" fill="#000"/>
<rect x="526.2" y="339.9" width="49.4" height="24.6" rx="1.5" fill="#fff"/>
<text x="530" y="361.6" font-family="'Liberation Sans', sans-serif" font-weight="bold" font-size="22.5" fill="#000">P</text>
<rect x="549" y="343" width="23.5" height="18.5" rx="1.5" fill="#fff" stroke="#000" stroke-width="0.8"/>
<rect x="552.5" y="346.5" width="5" height="5.5" fill="#000"/><rect x="557.5" y="345" width="9.5" height="7" fill="#000"/><circle cx="555" cy="353" r="1.2" fill="#000"/><circle cx="564" cy="353" r="1.2" fill="#000"/><rect x="568.3" y="347.5" width="2.6" height="4.2" fill="#000"/>
<rect x="551" y="355.3" width="17.5" height="4.6" rx="0.8" fill="#fff" stroke="#000" stroke-width="0.5"/>
<text x="552.3" y="359" font-family="'Liberation Sans', sans-serif" font-weight="bold" font-size="3.6" fill="#000" textLength="15" lengthAdjust="spacingAndGlyphs">categorie 3</text>
<text x="519.7" y="375.6" font-family="'Liberation Sans Narrow', 'Liberation Sans', sans-serif" font-size="8.6" fill="#fff" textLength="28" lengthAdjust="spacingAndGlyphs">Nu <tspan fill="#b5d334">open</tspan></text>
<text x="519.7" y="387.5" font-family="'Liberation Sans Narrow', 'Liberation Sans', sans-serif" font-size="8.6" fill="#fff" textLength="21.5" lengthAdjust="spacingAndGlyphs">Aantal</text>
<text x="519.7" y="399" font-family="'Liberation Sans Narrow', 'Liberation Sans', sans-serif" font-size="8.6" fill="#fff" textLength="62.5" lengthAdjust="spacingAndGlyphs">vrije plaatsen <tspan fill="#b5d334">0123</tspan></text>
<text x="524" y="423" font-family="'Liberation Sans', sans-serif" font-weight="bold" font-size="9.6" fill="#fff" textLength="24.5" lengthAdjust="spacingAndGlyphs">300m</text>
<path d="M553.5,427.5 L553.5,413 L566.5,413 L566.5,408.8 L574,414.3 L566.5,419.8 L566.5,415.8 L556.3,415.8 L556.3,427.5 Z" fill="#fff"/>
<rect x="578" y="388" width="41" height="20" rx="10" fill="#f7be94" transform="rotate(-18 598.5 398)"/>
<rect x="581" y="392" width="17.2" height="11" rx="3.5" fill="#fbd7b6" transform="rotate(-18 598.5 398)"/>
<rect x="576" y="409" width="37" height="20" rx="10" fill="#f7be94" transform="rotate(-15 594.5 419)"/>
<rect x="579" y="413" width="15.5" height="11" rx="3.5" fill="#fbd7b6" transform="rotate(-15 594.5 419)"/>
<rect x="575" y="430" width="34" height="19" rx="9.5" fill="#f7be94" transform="rotate(-12 592 439.5)"/>
<rect x="578" y="434" width="14.3" height="10.5" rx="3.5" fill="#fbd7b6" transform="rotate(-12 592 439.5)"/>
<rect x="576" y="450" width="27" height="18" rx="9" fill="#f7be94" transform="rotate(-10 589.5 459)"/>
<rect x="579" y="454" width="11.3" height="9.9" rx="3.5" fill="#fbd7b6" transform="rotate(-10 589.5 459)"/>
<rect x="508.6" y="516" width="79.3" height="14" fill="#e9e9eb"/>
<path d="M499,528 L595.8,528 L595.8,610 C595.8,636 499,636 499,610 Z" fill="url(#sleeve)"/>
<g transform="matrix(0.866 0.5 0 1 202.7 539.3)"><text x="0" y="0" font-family="'Liberation Sans', sans-serif" font-size="31" fill="#fff" textLength="321" lengthAdjust="spacing">Dynamische gegevens</text></g>
<g transform="matrix(0.866 -0.5 0 1 505 698.5)"><text x="0" y="0" font-family="'Liberation Sans', sans-serif" font-style="italic" font-size="32" fill="#fff" textLength="505" lengthAdjust="spacing">beschikbaarheid en openingstijden</text></g>
</svg>
</body></html>
